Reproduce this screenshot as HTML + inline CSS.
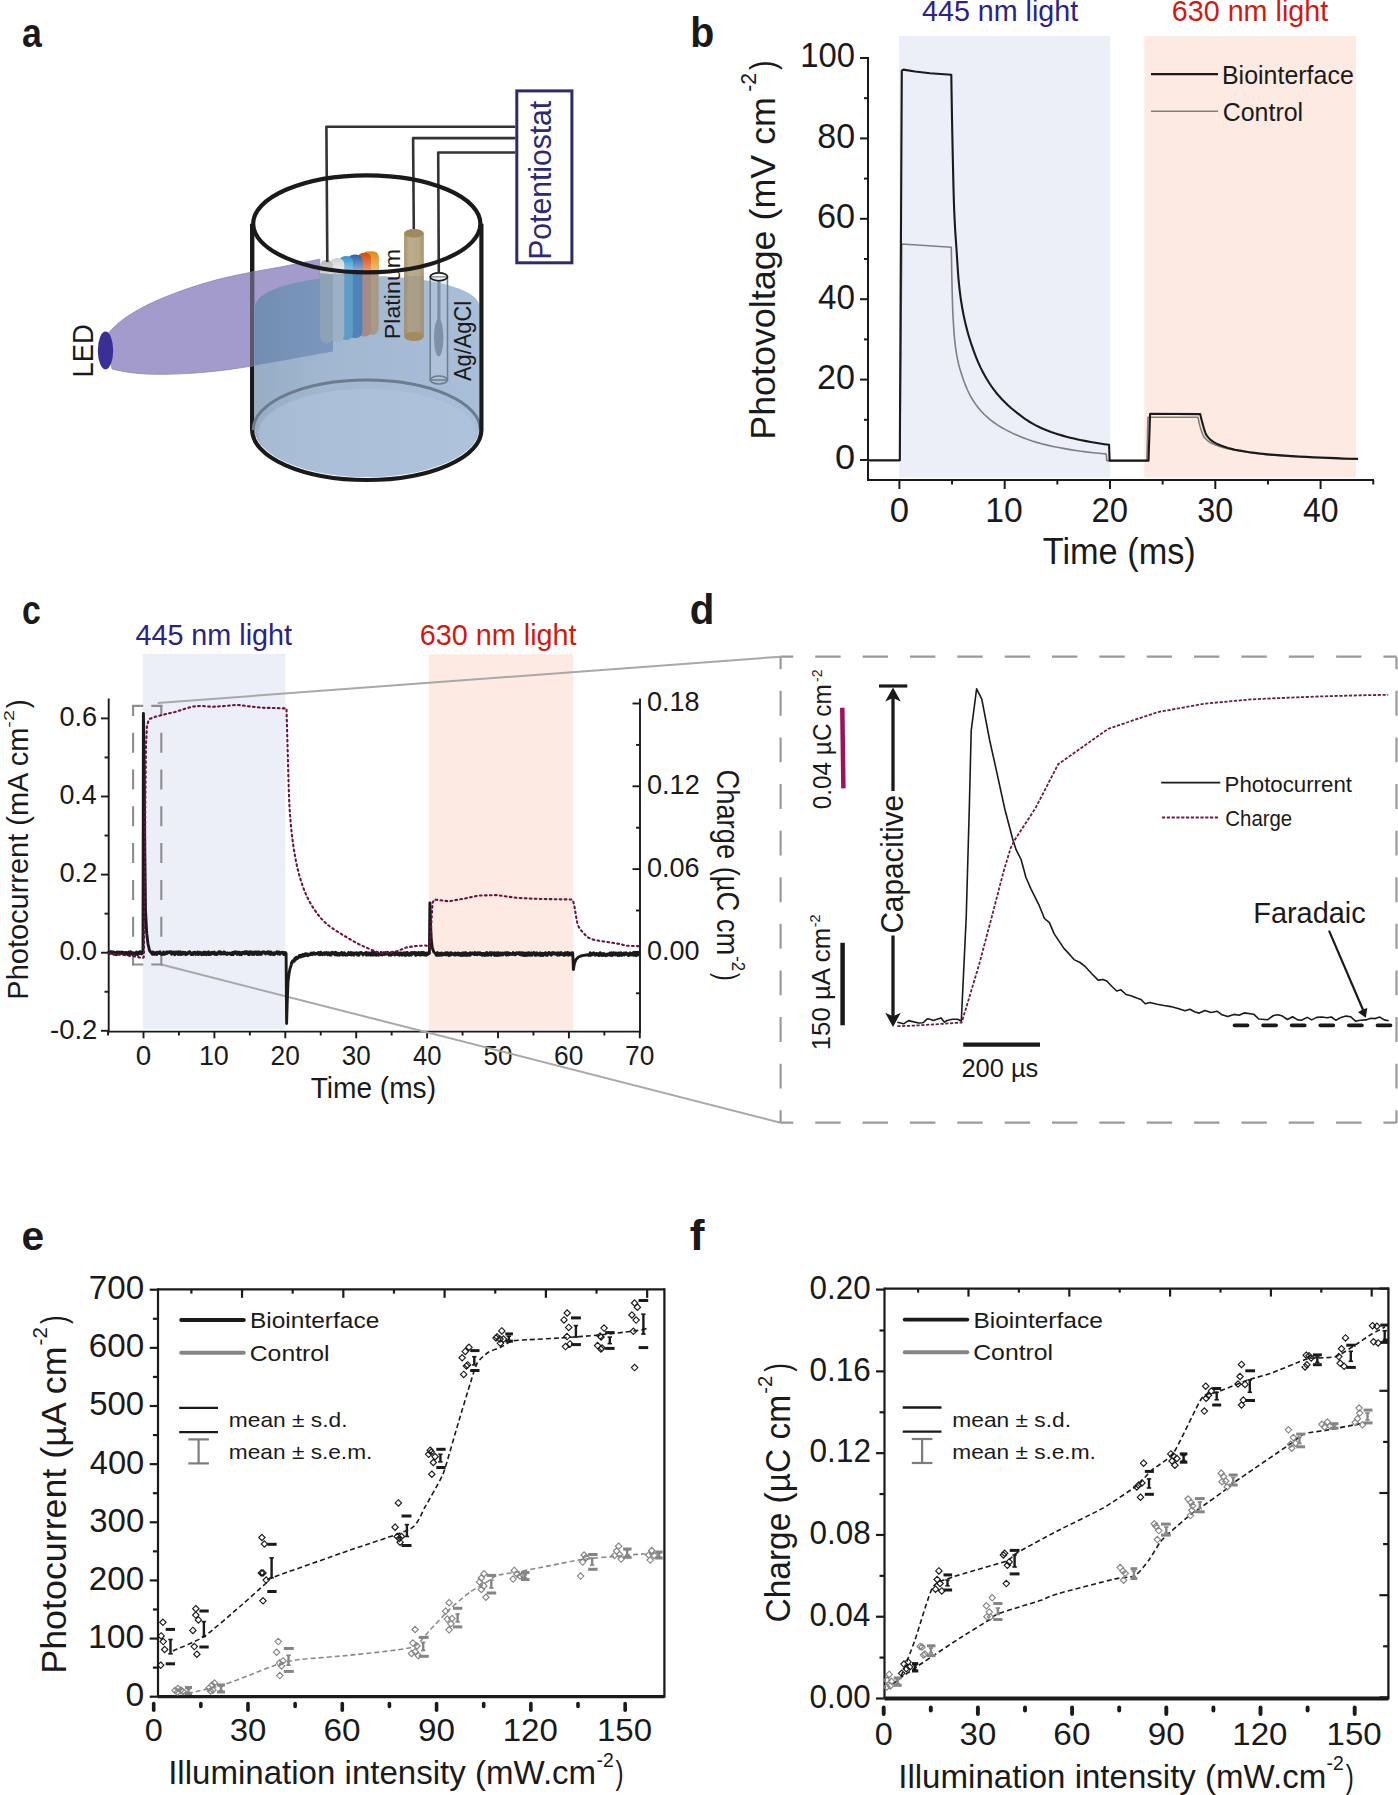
<!DOCTYPE html>
<html><head><meta charset="utf-8"><title>Figure</title>
<style>html,body{margin:0;padding:0;background:#fff;}svg{display:block;}text{font-family:"Liberation Sans", sans-serif;}</style>
</head><body>
<svg width="1398" height="1795" viewBox="0 0 1398 1795">
<rect width="1398" height="1795" fill="#fff"/>
<rect x="899" y="36" width="211" height="441.5" fill="#eceef8"/>
<rect x="1144.3" y="36" width="211.7" height="441.7" fill="#fdebe3"/>
<line x1="868" y1="57" x2="868" y2="481" stroke="#1a1a1a" stroke-width="2"/>
<line x1="867" y1="480" x2="1374" y2="480" stroke="#1a1a1a" stroke-width="2"/>
<line x1="860" y1="460" x2="868" y2="460" stroke="#1a1a1a" stroke-width="2"/>
<line x1="860" y1="379.6" x2="868" y2="379.6" stroke="#1a1a1a" stroke-width="2"/>
<line x1="860" y1="299.2" x2="868" y2="299.2" stroke="#1a1a1a" stroke-width="2"/>
<line x1="860" y1="218.8" x2="868" y2="218.8" stroke="#1a1a1a" stroke-width="2"/>
<line x1="860" y1="138.4" x2="868" y2="138.4" stroke="#1a1a1a" stroke-width="2"/>
<line x1="860" y1="58" x2="868" y2="58" stroke="#1a1a1a" stroke-width="2"/>
<line x1="864" y1="419.8" x2="868" y2="419.8" stroke="#1a1a1a" stroke-width="2"/>
<line x1="864" y1="339.4" x2="868" y2="339.4" stroke="#1a1a1a" stroke-width="2"/>
<line x1="864" y1="259" x2="868" y2="259" stroke="#1a1a1a" stroke-width="2"/>
<line x1="864" y1="178.6" x2="868" y2="178.6" stroke="#1a1a1a" stroke-width="2"/>
<line x1="864" y1="98.2" x2="868" y2="98.2" stroke="#1a1a1a" stroke-width="2"/>
<line x1="899.4" y1="480" x2="899.4" y2="489" stroke="#1a1a1a" stroke-width="2"/>
<line x1="1004.7" y1="480" x2="1004.7" y2="489" stroke="#1a1a1a" stroke-width="2"/>
<line x1="1110" y1="480" x2="1110" y2="489" stroke="#1a1a1a" stroke-width="2"/>
<line x1="1215.3" y1="480" x2="1215.3" y2="489" stroke="#1a1a1a" stroke-width="2"/>
<line x1="1320.6" y1="480" x2="1320.6" y2="489" stroke="#1a1a1a" stroke-width="2"/>
<line x1="952.05" y1="480" x2="952.05" y2="484.5" stroke="#1a1a1a" stroke-width="2"/>
<line x1="1057.35" y1="480" x2="1057.35" y2="484.5" stroke="#1a1a1a" stroke-width="2"/>
<line x1="1162.65" y1="480" x2="1162.65" y2="484.5" stroke="#1a1a1a" stroke-width="2"/>
<line x1="1267.95" y1="480" x2="1267.95" y2="484.5" stroke="#1a1a1a" stroke-width="2"/>
<line x1="1373.25" y1="480" x2="1373.25" y2="484.5" stroke="#1a1a1a" stroke-width="2"/>
<text x="835.09" y="469.3" font-size="34.71" fill="#1a1a1a" textLength="20.13" lengthAdjust="spacingAndGlyphs">0</text>
<text x="817.08" y="388.9" font-size="34.71" fill="#1a1a1a" textLength="38.06" lengthAdjust="spacingAndGlyphs">20</text>
<text x="818.04" y="308.5" font-size="34.71" fill="#1a1a1a" textLength="37.07" lengthAdjust="spacingAndGlyphs">40</text>
<text x="817.06" y="228.1" font-size="34.71" fill="#1a1a1a" textLength="38.08" lengthAdjust="spacingAndGlyphs">60</text>
<text x="817.32" y="147.7" font-size="34.71" fill="#1a1a1a" textLength="37.8" lengthAdjust="spacingAndGlyphs">80</text>
<text x="800.3" y="67.3" font-size="34.71" fill="#1a1a1a" textLength="54.78" lengthAdjust="spacingAndGlyphs">100</text>
<text x="889.74" y="522.3" font-size="35" fill="#1a1a1a" textLength="19.31" lengthAdjust="spacingAndGlyphs">0</text>
<text x="985.33" y="522.3" font-size="35" fill="#1a1a1a" textLength="37.48" lengthAdjust="spacingAndGlyphs">10</text>
<text x="1091.55" y="522.3" font-size="35" fill="#1a1a1a" textLength="36.53" lengthAdjust="spacingAndGlyphs">20</text>
<text x="1197.26" y="522.3" font-size="35" fill="#1a1a1a" textLength="36.1" lengthAdjust="spacingAndGlyphs">30</text>
<text x="1303.07" y="522.3" font-size="35" fill="#1a1a1a" textLength="35.58" lengthAdjust="spacingAndGlyphs">40</text>
<text x="1042.74" y="564" font-size="36.19" fill="#1a1a1a" textLength="153.07" lengthAdjust="spacingAndGlyphs">Time (ms)</text>
<text transform="translate(774.8,436.8) rotate(-90)" x="-2.94" y="0" font-size="35.9" fill="#1a1a1a" textLength="342.7" lengthAdjust="spacingAndGlyphs">Photovoltage (mV cm</text>
<text transform="translate(755.8,90.9) rotate(-90)" x="-0.94" y="0" font-size="21.86" fill="#1a1a1a" textLength="18.8" lengthAdjust="spacingAndGlyphs">-2</text>
<text transform="translate(774.8,69.8) rotate(-90)" x="-0.17" y="0" font-size="35.9" fill="#1a1a1a" textLength="9.42" lengthAdjust="spacingAndGlyphs">)</text>
<text x="922.04" y="21.2" font-size="28.86" fill="#2b2287" textLength="156.17" lengthAdjust="spacingAndGlyphs">445 nm light</text>
<text x="1171.74" y="21.2" font-size="28.86" fill="#d4180e" textLength="156.47" lengthAdjust="spacingAndGlyphs">630 nm light</text>
<text x="690.31" y="46.6" font-size="42.37" fill="#1a1a1a" font-weight="bold" textLength="24" lengthAdjust="spacingAndGlyphs">b</text>
<line x1="1151" y1="74.2" x2="1218" y2="74.2" stroke="#1a1a1a" stroke-width="2.2"/>
<line x1="1151" y1="111.3" x2="1218" y2="111.3" stroke="#7f7f7f" stroke-width="1.6"/>
<text x="1221.95" y="83.8" font-size="25.73" fill="#1a1a1a" textLength="131.86" lengthAdjust="spacingAndGlyphs">Biointerface</text>
<text x="1222.73" y="121" font-size="25.73" fill="#1a1a1a" textLength="80.44" lengthAdjust="spacingAndGlyphs">Control</text>
<path d="M867,460.6 L899.8,460.6 L901.8,244 L951.3,247.2 L951.4,253.36 L951.5,259.33 L951.6,265.05 L951.7,270.45 L951.8,275.45 L951.9,280 L952.07,287.06 L952.23,293.81 L952.4,300.08 L952.57,305.69 L952.73,310.49 L952.9,314.3 L953.37,322.74 L953.83,329.91 L954.3,335.94 L954.77,340.99 L955.23,345.2 L955.7,348.7 L956.65,354.67 L957.6,359.67 L958.55,363.9 L959.5,367.54 L960.45,370.78 L961.4,373.8 L963.32,379.51 L965.23,384.66 L967.15,389.27 L969.07,393.38 L970.98,397.02 L972.9,400.2 L975.77,404.4 L978.63,408.16 L981.5,411.51 L984.37,414.51 L987.23,417.19 L990.1,419.6 L993.92,422.49 L997.73,425.11 L1001.55,427.48 L1005.37,429.63 L1009.18,431.59 L1013,433.4 L1017.77,435.5 L1022.53,437.45 L1027.3,439.25 L1032.07,440.9 L1036.83,442.38 L1041.6,443.7 L1047.32,445.11 L1053.03,446.41 L1058.75,447.58 L1064.47,448.65 L1070.18,449.62 L1075.9,450.5 L1080.95,451.21 L1086,451.89 L1091.05,452.51 L1096.1,453.07 L1101.15,453.57 L1106.2,454 L1106.8,460.6 L1146.9,460.6 L1148,417.3 L1198,417.3 L1198.37,419.12 L1198.73,420.89 L1199.1,422.58 L1199.47,424.16 L1199.83,425.61 L1200.2,426.9 L1200.92,429.2 L1201.63,431.38 L1202.35,433.38 L1203.07,435.12 L1203.78,436.55 L1204.5,437.6 L1206.25,439.46 L1208,440.98 L1209.75,442.22 L1211.5,443.23 L1213.25,444.07 L1215,444.8 L1218.93,446.22 L1222.87,447.43 L1226.8,448.44 L1230.73,449.32 L1234.67,450.09 L1238.6,450.8 L1243.93,451.7 L1249.27,452.52 L1254.6,453.26 L1259.93,453.93 L1265.27,454.51 L1270.6,455 L1277.7,455.56 L1284.8,456.06 L1291.9,456.5 L1299,456.9 L1306.1,457.26 L1313.2,457.6 L1320.67,457.94 L1328.13,458.27 L1335.6,458.57 L1343.07,458.84 L1350.53,459.09 L1358,459.3" fill="none" stroke="#7f7f7f" stroke-width="1.6" stroke-linejoin="round"/>
<path d="M867,460.3 L899.8,460.3 L901.8,70.6 L903.5,69.6 L915,71.5 L930,73.2 L951.3,74.8 L951.5,87.58 L951.7,99.96 L951.9,111.84 L952.1,123.13 L952.3,133.75 L952.5,143.6 L952.78,156.89 L953.07,169.79 L953.35,181.96 L953.63,193.03 L953.92,202.66 L954.2,210.5 L954.62,219.67 L955.03,227.38 L955.45,234.07 L955.87,240.17 L956.28,246.1 L956.7,252.3 L957.02,257.3 L957.33,262.35 L957.65,267.3 L957.97,272 L958.28,276.28 L958.6,280 L959.07,284.75 L959.53,289.05 L960,292.97 L960.47,296.56 L960.93,299.85 L961.4,302.9 L962.17,307.53 L962.93,311.76 L963.7,315.66 L964.47,319.26 L965.23,322.63 L966,325.8 L967.15,330.27 L968.3,334.43 L969.45,338.32 L970.6,341.97 L971.75,345.42 L972.9,348.7 L974.42,352.85 L975.93,356.8 L977.45,360.54 L978.97,364.06 L980.48,367.35 L982,370.4 L984.3,374.7 L986.6,378.73 L988.9,382.49 L991.2,385.99 L993.5,389.22 L995.8,392.2 L998.85,395.83 L1001.9,399.19 L1004.95,402.31 L1008,405.21 L1011.05,407.94 L1014.1,410.5 L1017.72,413.41 L1021.33,416.18 L1024.95,418.8 L1028.57,421.23 L1032.18,423.44 L1035.8,425.4 L1039.62,427.25 L1043.43,428.95 L1047.25,430.52 L1051.07,431.96 L1054.88,433.28 L1058.7,434.5 L1062.52,435.63 L1066.33,436.67 L1070.15,437.65 L1073.97,438.56 L1077.78,439.41 L1081.6,440.2 L1086.18,441.1 L1090.77,441.96 L1095.35,442.77 L1099.93,443.52 L1104.52,444.2 L1109.1,444.8 L1109.6,460.6 L1148.5,460.6 L1150.1,413.7 L1200.2,414.1 L1200.55,415.63 L1200.9,417.13 L1201.25,418.59 L1201.6,419.99 L1201.95,421.34 L1202.3,422.6 L1203.02,425.15 L1203.73,427.7 L1204.45,430.14 L1205.17,432.32 L1205.88,434.11 L1206.6,435.4 L1208.38,437.63 L1210.17,439.45 L1211.95,440.93 L1213.73,442.13 L1215.52,443.13 L1217.3,444 L1220.85,445.52 L1224.4,446.82 L1227.95,447.93 L1231.5,448.88 L1235.05,449.69 L1238.6,450.4 L1243.93,451.34 L1249.27,452.18 L1254.6,452.91 L1259.93,453.55 L1265.27,454.11 L1270.6,454.6 L1277.7,455.16 L1284.8,455.66 L1291.9,456.1 L1299,456.5 L1306.1,456.86 L1313.2,457.2 L1320.67,457.54 L1328.13,457.87 L1335.6,458.17 L1343.07,458.44 L1350.53,458.69 L1358,458.9" fill="none" stroke="#1a1a1a" stroke-width="2.1" stroke-linejoin="round"/>
<rect x="142.7" y="654" width="142.7" height="375" fill="#eceef8"/>
<rect x="428.8" y="654.2" width="144.4" height="375.8" fill="#fdebe3"/>
<line x1="108.7" y1="698.4" x2="108.7" y2="1032.5" stroke="#1a1a1a" stroke-width="1.9"/>
<line x1="640" y1="698.4" x2="640" y2="1032.5" stroke="#1a1a1a" stroke-width="1.9"/>
<line x1="107.8" y1="1031.6" x2="640.9" y2="1031.6" stroke="#1a1a1a" stroke-width="1.9"/>
<line x1="101" y1="1030.8" x2="108.7" y2="1030.8" stroke="#1a1a1a" stroke-width="1.9"/>
<line x1="101" y1="952.7" x2="108.7" y2="952.7" stroke="#1a1a1a" stroke-width="1.9"/>
<line x1="101" y1="874.6" x2="108.7" y2="874.6" stroke="#1a1a1a" stroke-width="1.9"/>
<line x1="101" y1="796.5" x2="108.7" y2="796.5" stroke="#1a1a1a" stroke-width="1.9"/>
<line x1="101" y1="718.4" x2="108.7" y2="718.4" stroke="#1a1a1a" stroke-width="1.9"/>
<line x1="104.5" y1="991.75" x2="108.7" y2="991.75" stroke="#1a1a1a" stroke-width="1.9"/>
<line x1="104.5" y1="913.65" x2="108.7" y2="913.65" stroke="#1a1a1a" stroke-width="1.9"/>
<line x1="104.5" y1="835.55" x2="108.7" y2="835.55" stroke="#1a1a1a" stroke-width="1.9"/>
<line x1="104.5" y1="757.45" x2="108.7" y2="757.45" stroke="#1a1a1a" stroke-width="1.9"/>
<line x1="632.5" y1="951.9" x2="640" y2="951.9" stroke="#1a1a1a" stroke-width="1.9"/>
<line x1="632.5" y1="869.1" x2="640" y2="869.1" stroke="#1a1a1a" stroke-width="1.9"/>
<line x1="632.5" y1="786.3" x2="640" y2="786.3" stroke="#1a1a1a" stroke-width="1.9"/>
<line x1="632.5" y1="703.5" x2="640" y2="703.5" stroke="#1a1a1a" stroke-width="1.9"/>
<line x1="636" y1="993.3" x2="640" y2="993.3" stroke="#1a1a1a" stroke-width="1.9"/>
<line x1="636" y1="910.5" x2="640" y2="910.5" stroke="#1a1a1a" stroke-width="1.9"/>
<line x1="636" y1="827.7" x2="640" y2="827.7" stroke="#1a1a1a" stroke-width="1.9"/>
<line x1="636" y1="744.9" x2="640" y2="744.9" stroke="#1a1a1a" stroke-width="1.9"/>
<line x1="143.5" y1="1031.6" x2="143.5" y2="1038.3" stroke="#1a1a1a" stroke-width="1.9"/>
<line x1="214.4" y1="1031.6" x2="214.4" y2="1038.3" stroke="#1a1a1a" stroke-width="1.9"/>
<line x1="285.3" y1="1031.6" x2="285.3" y2="1038.3" stroke="#1a1a1a" stroke-width="1.9"/>
<line x1="356.2" y1="1031.6" x2="356.2" y2="1038.3" stroke="#1a1a1a" stroke-width="1.9"/>
<line x1="427.1" y1="1031.6" x2="427.1" y2="1038.3" stroke="#1a1a1a" stroke-width="1.9"/>
<line x1="498" y1="1031.6" x2="498" y2="1038.3" stroke="#1a1a1a" stroke-width="1.9"/>
<line x1="568.9" y1="1031.6" x2="568.9" y2="1038.3" stroke="#1a1a1a" stroke-width="1.9"/>
<line x1="639.8" y1="1031.6" x2="639.8" y2="1038.3" stroke="#1a1a1a" stroke-width="1.9"/>
<line x1="108.05" y1="1031.6" x2="108.05" y2="1035.5" stroke="#1a1a1a" stroke-width="1.9"/>
<line x1="178.95" y1="1031.6" x2="178.95" y2="1035.5" stroke="#1a1a1a" stroke-width="1.9"/>
<line x1="249.85" y1="1031.6" x2="249.85" y2="1035.5" stroke="#1a1a1a" stroke-width="1.9"/>
<line x1="320.75" y1="1031.6" x2="320.75" y2="1035.5" stroke="#1a1a1a" stroke-width="1.9"/>
<line x1="391.65" y1="1031.6" x2="391.65" y2="1035.5" stroke="#1a1a1a" stroke-width="1.9"/>
<line x1="462.55" y1="1031.6" x2="462.55" y2="1035.5" stroke="#1a1a1a" stroke-width="1.9"/>
<line x1="533.45" y1="1031.6" x2="533.45" y2="1035.5" stroke="#1a1a1a" stroke-width="1.9"/>
<line x1="604.35" y1="1031.6" x2="604.35" y2="1035.5" stroke="#1a1a1a" stroke-width="1.9"/>
<text x="59.44" y="726.1" font-size="27.57" fill="#1a1a1a" textLength="37.75" lengthAdjust="spacingAndGlyphs">0.6</text>
<text x="59.45" y="804.2" font-size="27.57" fill="#1a1a1a" textLength="37.34" lengthAdjust="spacingAndGlyphs">0.4</text>
<text x="59.43" y="882.3" font-size="27.57" fill="#1a1a1a" textLength="37.94" lengthAdjust="spacingAndGlyphs">0.2</text>
<text x="59.44" y="960.4" font-size="27.57" fill="#1a1a1a" textLength="37.61" lengthAdjust="spacingAndGlyphs">0.0</text>
<text x="49.98" y="1038.5" font-size="27.57" fill="#1a1a1a" textLength="47.41" lengthAdjust="spacingAndGlyphs">-0.2</text>
<text x="646.94" y="711.3" font-size="27.86" fill="#1a1a1a" textLength="52.63" lengthAdjust="spacingAndGlyphs">0.18</text>
<text x="646.94" y="794.1" font-size="27.86" fill="#1a1a1a" textLength="52.83" lengthAdjust="spacingAndGlyphs">0.12</text>
<text x="646.94" y="876.9" font-size="27.86" fill="#1a1a1a" textLength="52.65" lengthAdjust="spacingAndGlyphs">0.06</text>
<text x="646.95" y="959.7" font-size="27.86" fill="#1a1a1a" textLength="52.51" lengthAdjust="spacingAndGlyphs">0.00</text>
<text x="135.76" y="1064.9" font-size="27.57" fill="#1a1a1a" textLength="15.47" lengthAdjust="spacingAndGlyphs">0</text>
<text x="198.89" y="1064.9" font-size="27.57" fill="#1a1a1a" textLength="30.01" lengthAdjust="spacingAndGlyphs">10</text>
<text x="270.53" y="1064.9" font-size="27.57" fill="#1a1a1a" textLength="29.25" lengthAdjust="spacingAndGlyphs">20</text>
<text x="341.76" y="1064.9" font-size="27.57" fill="#1a1a1a" textLength="28.9" lengthAdjust="spacingAndGlyphs">30</text>
<text x="413.06" y="1064.9" font-size="27.57" fill="#1a1a1a" textLength="28.49" lengthAdjust="spacingAndGlyphs">40</text>
<text x="483.51" y="1064.9" font-size="27.57" fill="#1a1a1a" textLength="28.96" lengthAdjust="spacingAndGlyphs">50</text>
<text x="554.11" y="1064.9" font-size="27.57" fill="#1a1a1a" textLength="29.26" lengthAdjust="spacingAndGlyphs">60</text>
<text x="625" y="1064.9" font-size="27.57" fill="#1a1a1a" textLength="29.28" lengthAdjust="spacingAndGlyphs">70</text>
<text x="310.67" y="1098" font-size="28.78" fill="#1a1a1a" textLength="125.35" lengthAdjust="spacingAndGlyphs">Time (ms)</text>
<text transform="translate(27.8,997.3) rotate(-90)" x="-2.36" y="0" font-size="29.07" fill="#1a1a1a" textLength="272.06" lengthAdjust="spacingAndGlyphs">Photocurrent (mA cm</text>
<text transform="translate(13.6,726.8) rotate(-90)" x="-0.87" y="0" font-size="15" fill="#1a1a1a" textLength="17.46" lengthAdjust="spacingAndGlyphs">-2</text>
<text transform="translate(27.8,708.2) rotate(-90)" x="-0.15" y="0" font-size="29.07" fill="#1a1a1a" textLength="8.79" lengthAdjust="spacingAndGlyphs">)</text>
<text transform="translate(717,770.9) rotate(90)" x="-1.39" y="0" font-size="30.52" fill="#1a1a1a" textLength="185.69" lengthAdjust="spacingAndGlyphs">Charge (µC cm</text>
<text transform="translate(732.3,956.9) rotate(90)" x="-0.74" y="0" font-size="18" fill="#1a1a1a" textLength="14.89" lengthAdjust="spacingAndGlyphs">-2</text>
<text transform="translate(717,973.2) rotate(90)" x="-0.13" y="0" font-size="30.52" fill="#1a1a1a" textLength="7.54" lengthAdjust="spacingAndGlyphs">)</text>
<text x="135.44" y="644.9" font-size="28.86" fill="#2b2287" textLength="156.57" lengthAdjust="spacingAndGlyphs">445 nm light</text>
<text x="419.74" y="644.8" font-size="28.86" fill="#d4180e" textLength="156.87" lengthAdjust="spacingAndGlyphs">630 nm light</text>
<text x="21.88" y="623.9" font-size="40.89" fill="#1a1a1a" font-weight="bold" textLength="18.81" lengthAdjust="spacingAndGlyphs">c</text>
<line x1="157.7" y1="703" x2="780.6" y2="656.7" stroke="#a8a8a8" stroke-width="2"/>
<line x1="161.4" y1="964.5" x2="780.6" y2="1122.7" stroke="#a8a8a8" stroke-width="2"/>
<line x1="132" y1="705.9" x2="162.4" y2="705.9" stroke="#8d8d8d" stroke-width="2.1" stroke-dasharray="11.2 8.1" stroke-dashoffset="0"/>
<line x1="132" y1="964.5" x2="162.4" y2="964.5" stroke="#8d8d8d" stroke-width="2.1" stroke-dasharray="11.2 8.1" stroke-dashoffset="0"/>
<line x1="133.1" y1="704.9" x2="133.1" y2="965.5" stroke="#8d8d8d" stroke-width="2.1" stroke-dasharray="20 16.8" stroke-dashoffset="9"/>
<line x1="161.3" y1="704.9" x2="161.3" y2="965.5" stroke="#8d8d8d" stroke-width="2.1" stroke-dasharray="20 16.8" stroke-dashoffset="9"/>
<path d="M108.5,952.67 L108.9,952.15 L109.3,953.65 L109.7,951.92 L110.1,953.31 L110.5,952.8 L110.9,951.87 L111.3,953.22 L111.7,951.81 L112.1,953 L112.5,951.91 L112.9,951.97 L113.3,952.97 L113.7,954.18 L114.1,952.07 L114.5,952.37 L114.9,953.58 L115.3,954.54 L115.7,953.43 L116.1,952.89 L116.5,954.63 L116.9,951.84 L117.3,954.28 L117.7,952.57 L118.1,952.13 L118.5,952.05 L118.9,952.63 L119.3,954.15 L119.7,952.24 L120.1,953.44 L120.5,953.62 L120.9,952.82 L121.3,953.34 L121.7,951.89 L122.1,951.88 L122.5,952.32 L122.9,953.74 L123.3,952.98 L123.7,952.64 L124.1,953.46 L124.5,953.06 L124.9,952.6 L125.3,954.08 L125.7,953.8 L126.1,952.43 L126.5,953.42 L126.9,953.28 L127.3,954.33 L127.7,953.89 L128.1,952.56 L128.5,954.64 L128.9,952.05 L129.3,952.95 L129.7,953.97 L130.1,952.16 L130.5,953.17 L130.9,951.82 L131.3,953.7 L131.7,953.99 L132.1,953.42 L132.5,954.33 L132.9,952.64 L133.3,953.79 L133.7,953.48 L134.1,953.44 L134.5,953.07 L134.9,954.22 L135.3,954.53 L135.7,953.12 L136.1,953.69 L136.5,951.88 L136.9,953.8 L137.3,953.64 L137.7,954.68 L138.1,954.17 L138.5,952.55 L138.9,952.86 L139.3,953.71 L139.7,951.77 L140.1,953.09 L140.5,952.2 L140.9,952.05 L141.3,951.88 L141.7,954 L142.1,952.09 L142.5,952.44 L143,953 L143.4,713.4 L143.9,740 L144.8,850 L145.5,910.6 L146.7,933.2 L148,944 L149.5,950.5 L151.5,953 L152,952.87 L152.4,954.31 L152.8,951.94 L153.2,953.05 L153.6,953.35 L154,954.35 L154.4,954.16 L154.8,954.29 L155.2,952.54 L155.6,952.95 L156,952.78 L156.4,954.35 L156.8,954.57 L157.2,952.15 L157.6,952.23 L158,952.4 L158.4,952.4 L158.8,953.15 L159.2,953.47 L159.6,952.49 L160,951.71 L160.4,952.96 L160.8,952.81 L161.2,953.4 L161.6,954.56 L162,953.77 L162.4,953.25 L162.8,953.55 L163.2,953.73 L163.6,951.86 L164,954.4 L164.4,954.04 L164.8,954.32 L165.2,954.09 L165.6,952.88 L166,952.9 L166.4,952.01 L166.8,953.6 L167.2,951.89 L167.6,951.9 L168,952.33 L168.4,952.19 L168.8,952.72 L169.2,951.86 L169.6,951.7 L170,952.15 L170.4,952 L170.8,952.79 L171.2,951.78 L171.6,954.32 L172,953.54 L172.4,952.15 L172.8,952.46 L173.2,952.74 L173.6,952.79 L174,952.07 L174.4,954.25 L174.8,954.68 L175.2,953.1 L175.6,953.15 L176,951.96 L176.4,952.01 L176.8,952.73 L177.2,952.49 L177.6,954.19 L178,952.18 L178.4,951.77 L178.8,954.55 L179.2,953.28 L179.6,952.14 L180,953.33 L180.4,951.78 L180.8,953.28 L181.2,954.64 L181.6,954.29 L182,953.79 L182.4,952.48 L182.8,952.8 L183.2,952.2 L183.6,954.02 L184,953.3 L184.4,954.04 L184.8,952.69 L185.2,952.37 L185.6,954.13 L186,954.65 L186.4,954.26 L186.8,954.12 L187.2,954.15 L187.6,953.92 L188,952.38 L188.4,953.25 L188.8,952.77 L189.2,951.79 L189.6,951.78 L190,952.54 L190.4,952.48 L190.8,953.78 L191.2,954.57 L191.6,953.04 L192,954.51 L192.4,954.66 L192.8,954.57 L193.2,952.79 L193.6,952.36 L194,952.38 L194.4,952.29 L194.8,952.31 L195.2,953.57 L195.6,954.4 L196,954.22 L196.4,953.14 L196.8,953.66 L197.2,954.1 L197.6,951.95 L198,953.68 L198.4,954.43 L198.8,954.05 L199.2,953.95 L199.6,953.13 L200,952.24 L200.4,954.07 L200.8,952.7 L201.2,954.1 L201.6,954.61 L202,952.89 L202.4,952.9 L202.8,954.54 L203.2,953.87 L203.6,952.21 L204,952.08 L204.4,952.15 L204.8,954.41 L205.2,954.12 L205.6,952.14 L206,954.18 L206.4,954.64 L206.8,953.67 L207.2,952.75 L207.6,953.35 L208,952.09 L208.4,951.74 L208.8,954.61 L209.2,953.65 L209.6,953.28 L210,954.5 L210.4,953 L210.8,954.32 L211.2,954.18 L211.6,952.33 L212,952.46 L212.4,952.58 L212.8,952.42 L213.2,953.46 L213.6,952.48 L214,952.96 L214.4,952.09 L214.8,954.43 L215.2,952.76 L215.6,953.07 L216,953.45 L216.4,954.41 L216.8,952.96 L217.2,954.45 L217.6,953.2 L218,953.3 L218.4,953.27 L218.8,951.76 L219.2,953.02 L219.6,952.25 L220,951.71 L220.4,954.1 L220.8,952.22 L221.2,953.12 L221.6,953.88 L222,953.37 L222.4,952.68 L222.8,953.26 L223.2,953.37 L223.6,954.05 L224,952.02 L224.4,953.38 L224.8,952.45 L225.2,952.53 L225.6,954.02 L226,953.22 L226.4,953.39 L226.8,953.98 L227.2,954.44 L227.6,953.03 L228,953.54 L228.4,953.22 L228.8,953.24 L229.2,953.78 L229.6,953.06 L230,953.3 L230.4,953.13 L230.8,954.52 L231.2,953.8 L231.6,954.33 L232,954.53 L232.4,952.48 L232.8,953.38 L233.2,954.53 L233.6,954.22 L234,952.11 L234.4,952.06 L234.8,953.03 L235.2,951.92 L235.6,952.42 L236,951.92 L236.4,953.71 L236.8,954.05 L237.2,954.39 L237.6,952.16 L238,953.85 L238.4,953.68 L238.8,952.13 L239.2,954.35 L239.6,954.6 L240,952.36 L240.4,954.56 L240.8,952.89 L241.2,953.16 L241.6,954.67 L242,954.2 L242.4,952.18 L242.8,952.99 L243.2,953.25 L243.6,952.72 L244,952.29 L244.4,952.66 L244.8,953.87 L245.2,951.76 L245.6,953.36 L246,953.02 L246.4,951.75 L246.8,952.69 L247.2,953.57 L247.6,953.24 L248,951.89 L248.4,954.66 L248.8,954.07 L249.2,954.62 L249.6,952.01 L250,952.5 L250.4,951.82 L250.8,954.04 L251.2,952.51 L251.6,952.09 L252,952.97 L252.4,954.43 L252.8,954.16 L253.2,952.48 L253.6,952.15 L254,954.46 L254.4,953.41 L254.8,953.8 L255.2,951.97 L255.6,951.87 L256,953.76 L256.4,952.98 L256.8,951.92 L257.2,954.52 L257.6,953.6 L258,954.1 L258.4,951.95 L258.8,954.27 L259.2,951.9 L259.6,954.29 L260,953.06 L260.4,952.72 L260.8,953.36 L261.2,954.48 L261.6,952.5 L262,952.09 L262.4,953.28 L262.8,952.42 L263.2,952.03 L263.6,952.18 L264,951.85 L264.4,952.31 L264.8,952.64 L265.2,952.62 L265.6,953.98 L266,952.57 L266.4,953.2 L266.8,952.23 L267.2,952.74 L267.6,951.75 L268,952.45 L268.4,951.75 L268.8,953.9 L269.2,953.35 L269.6,952.27 L270,953.12 L270.4,954.5 L270.8,952.02 L271.2,954.16 L271.6,953 L272,953.19 L272.4,954.2 L272.8,952.88 L273.2,953.22 L273.6,953.76 L274,954.65 L274.4,952.73 L274.8,954.2 L275.2,953.82 L275.6,953.61 L276,952.91 L276.4,952.74 L276.8,951.86 L277.2,952.09 L277.6,951.91 L278,953.92 L278.4,952.47 L278.8,952.19 L279.2,951.95 L279.6,954.22 L280,954.31 L280.4,953.71 L280.8,952.55 L281.2,952.43 L281.6,952.58 L282,953.08 L282.4,952.17 L282.8,953.04 L283.2,952.49 L283.6,954.59 L284,954.62 L284.4,953.34 L284.8,952.43 L285.2,954.6 L285.6,952.63 L286.1,953.5 L286.6,1023.5 L287.3,1000 L288,981.5 L289,974 L290,968.6 L291.2,965 L291.29,964.4 L291.39,963.24 L291.48,964.01 L291.57,964.02 L291.66,963.88 L291.76,962.88 L291.85,963.46 L291.94,961.96 L292.04,962.44 L292.13,961.79 L292.22,962.42 L292.31,961.32 L292.41,961.11 L292.5,961.69 L292.68,961.23 L292.86,961.89 L293.04,961.5 L293.21,961.84 L293.39,961.37 L293.57,961.31 L293.75,961.52 L293.93,960.05 L294.11,959.7 L294.29,961.23 L294.46,958.88 L294.64,960.21 L294.82,959.83 L295,958.11 L295.24,959.97 L295.47,959.91 L295.71,959.03 L295.94,959.11 L296.18,959.13 L296.41,957.2 L296.65,958.02 L296.89,957.81 L297.12,958.51 L297.36,958.28 L297.59,958.2 L297.83,957.44 L298.06,958.13 L298.3,957.48 L298.64,957.36 L298.97,956.03 L299.31,955.39 L299.64,955.55 L299.98,956.03 L300.31,955.27 L300.65,957.07 L300.99,956.26 L301.32,956.35 L301.66,956.26 L301.99,956.32 L302.33,955.74 L302.66,954.39 L303,956.37 L303.36,956.15 L303.71,955.43 L304.07,955.42 L304.43,955.65 L304.79,954.02 L305.14,955.68 L305.5,954.33 L305.86,953.79 L306.21,954.21 L306.57,955.34 L306.93,953.91 L307.29,955.24 L307.64,955.79 L308,954.48 L308.43,954.14 L308.86,954.33 L309.29,954.81 L309.71,954.98 L310.14,954.54 L310.57,954.57 L311,953.05 L311.43,953.19 L311.86,953.43 L312.29,954.67 L312.71,953.49 L313.14,954.14 L313.57,952.66 L314,952.76 L314.49,953.26 L314.97,954.27 L315.46,954.29 L315.94,954.2 L316.43,953.16 L316.91,953.71 L317.4,953.54 L317.89,953.52 L318.37,952.58 L318.86,954.57 L319.34,952.75 L319.83,954.76 L320.31,954.64 L320.8,952.25 L321.39,953.39 L321.97,954.33 L322.56,954.72 L323.14,953.37 L323.73,952.9 L324.31,952.75 L324.9,954.67 L325.49,952.77 L326.07,953.74 L326.66,952.6 L327.24,953.61 L327.83,954.74 L328.41,952.62 L329,954.43 L329.4,953.83 L329.8,954.96 L330.2,954.41 L330.6,952.99 L331,954.99 L331.4,953.76 L331.8,952.37 L332.2,952.31 L332.6,953.78 L333,953.65 L333.4,953.21 L333.8,952.72 L334.2,953.33 L334.6,953.25 L335,954.82 L335.4,952.31 L335.8,954.55 L336.2,954.82 L336.6,952.66 L337,955.08 L337.4,954.44 L337.8,955 L338.2,953.17 L338.6,953.42 L339,953.48 L339.4,955.3 L339.8,954.07 L340.2,953.38 L340.6,953.58 L341,953.13 L341.4,952.44 L341.8,952.61 L342.2,954.8 L342.6,953.16 L343,955.11 L343.4,953.05 L343.8,953.1 L344.2,953.83 L344.6,952.87 L345,953.42 L345.4,955.17 L345.8,954.95 L346.2,954.74 L346.6,954.19 L347,955.04 L347.4,955.12 L347.8,953.95 L348.2,954.46 L348.6,952.45 L349,954.5 L349.4,953.65 L349.8,954.56 L350.2,954.23 L350.6,953.16 L351,952.45 L351.4,955.08 L351.8,952.68 L352.2,953.72 L352.6,953.33 L353,953.19 L353.4,954.52 L353.8,955.23 L354.2,953.08 L354.6,954.27 L355,953.2 L355.4,953.97 L355.8,953.48 L356.2,952.8 L356.6,952.78 L357,952.92 L357.4,955.02 L357.8,953.79 L358.2,952.96 L358.6,955.02 L359,955.29 L359.4,953.65 L359.8,952.72 L360.2,952.88 L360.6,952.57 L361,953.33 L361.4,952.57 L361.8,953.02 L362.2,953.08 L362.6,954.01 L363,954.96 L363.4,954.55 L363.8,953.54 L364.2,953.54 L364.6,953.87 L365,953.43 L365.4,953.31 L365.8,952.49 L366.2,953.13 L366.6,955.2 L367,952.68 L367.4,953.81 L367.8,954.19 L368.2,954.89 L368.6,952.95 L369,953.11 L369.4,953.05 L369.8,953.5 L370.2,953.64 L370.6,955.16 L371,954.85 L371.4,954.92 L371.8,952.37 L372.2,952.4 L372.6,954.43 L373,954.99 L373.4,953.72 L373.8,954.06 L374.2,952.3 L374.6,953.47 L375,955.08 L375.4,954.78 L375.8,954.87 L376.2,955.22 L376.6,953.05 L377,952.63 L377.4,952.76 L377.8,953.87 L378.2,954.35 L378.6,955.12 L379,954.47 L379.4,954.24 L379.8,954.59 L380.2,953.67 L380.6,953.95 L381,952.42 L381.4,954.65 L381.8,953 L382.2,955.06 L382.6,954.24 L383,953.21 L383.4,952.68 L383.8,953.06 L384.2,954.21 L384.6,954.4 L385,952.64 L385.4,952.51 L385.8,953.87 L386.2,954.05 L386.6,953.46 L387,952.97 L387.4,954.1 L387.8,952.33 L388.2,953.2 L388.6,953.68 L389,955.18 L389.4,954.23 L389.8,954.95 L390.2,953.73 L390.6,953 L391,953.04 L391.4,955.18 L391.8,954.41 L392.2,953.22 L392.6,952.37 L393,953.79 L393.4,954.32 L393.8,953.56 L394.2,953.07 L394.6,954.3 L395,955.08 L395.4,952.98 L395.8,952.4 L396.2,953.31 L396.6,953.56 L397,954.35 L397.4,952.89 L397.8,954.69 L398.2,954.52 L398.6,953.81 L399,952.92 L399.4,955.21 L399.8,953.24 L400.2,954.76 L400.6,952.99 L401,952.96 L401.4,954.58 L401.8,953.18 L402.2,955.16 L402.6,953.79 L403,952.86 L403.4,952.97 L403.8,953.55 L404.2,954.3 L404.6,955.15 L405,952.74 L405.4,953.48 L405.8,952.94 L406.2,955.22 L406.6,952.73 L407,952.46 L407.4,952.48 L407.8,953.48 L408.2,954.99 L408.6,954.95 L409,954.5 L409.4,955.29 L409.8,955.09 L410.2,953.29 L410.6,952.86 L411,955.11 L411.4,954.54 L411.8,952.4 L412.2,954.29 L412.6,953.44 L413,953.42 L413.4,953.3 L413.8,952.81 L414.2,952.31 L414.6,953.14 L415,953.35 L415.4,955.17 L415.8,952.67 L416.2,955.19 L416.6,952.92 L417,953.37 L417.4,954.76 L417.8,954.77 L418.2,953.6 L418.6,952.45 L419,953.72 L419.4,953.42 L419.8,955.06 L420.2,952.88 L420.6,953.39 L421,954.99 L421.4,952.39 L421.8,953.53 L422.2,954.74 L422.6,954.6 L423,952.42 L423.4,952.4 L423.8,952.49 L424.2,955.06 L424.6,953.07 L425,954.54 L425.4,955 L425.8,953.32 L426.2,953.12 L426.6,955.17 L427,954.15 L427.4,953.09 L427.8,954.45 L428.2,953.25 L428.6,953.13 L429,952.31 L429.4,953.5 L429.9,902.9 L430.6,925 L431.3,940 L432.3,948 L433.8,952 L435.5,953.5 L436,954.77 L436.4,955.25 L436.8,954.4 L437.2,955.33 L437.6,952.57 L438,953.2 L438.4,953.93 L438.8,955.37 L439.2,955.36 L439.6,953.66 L440,953.25 L440.4,953.79 L440.8,953.98 L441.2,955.28 L441.6,953.05 L442,954.91 L442.4,954.72 L442.8,954.97 L443.2,954.82 L443.6,954.32 L444,953.48 L444.4,953.46 L444.8,953.59 L445.2,954.85 L445.6,952.74 L446,953.09 L446.4,954.76 L446.8,953.24 L447.2,952.69 L447.6,952.6 L448,954.16 L448.4,953.48 L448.8,955.44 L449.2,955.15 L449.6,955.46 L450,953.29 L450.4,952.75 L450.8,952.79 L451.2,954 L451.6,954.63 L452,953.84 L452.4,953.2 L452.8,953.75 L453.2,954.36 L453.6,954.52 L454,954.74 L454.4,955.04 L454.8,954.49 L455.2,952.86 L455.6,955.02 L456,953.38 L456.4,954.2 L456.8,953.62 L457.2,954.71 L457.6,953.1 L458,953.24 L458.4,953.24 L458.8,952.96 L459.2,955.15 L459.6,954.23 L460,953.48 L460.4,953.69 L460.8,955.48 L461.2,954.02 L461.6,953.19 L462,954.93 L462.4,954.46 L462.8,955.47 L463.2,952.81 L463.6,953.92 L464,954.96 L464.4,955.02 L464.8,955.24 L465.2,952.62 L465.6,953.38 L466,952.86 L466.4,953.07 L466.8,955.42 L467.2,954.25 L467.6,955.29 L468,953.62 L468.4,955.1 L468.8,953.85 L469.2,953.28 L469.6,954.83 L470,955.34 L470.4,952.82 L470.8,954.29 L471.2,954.36 L471.6,953.15 L472,953.61 L472.4,952.92 L472.8,953.11 L473.2,953.26 L473.6,954.3 L474,954.45 L474.4,953.11 L474.8,952.53 L475.2,953.48 L475.6,954.53 L476,953.06 L476.4,953.44 L476.8,953.11 L477.2,954.89 L477.6,954.14 L478,952.69 L478.4,952.8 L478.8,953.69 L479.2,954.15 L479.6,954.42 L480,952.77 L480.4,952.99 L480.8,954.59 L481.2,953.73 L481.6,953.35 L482,953.42 L482.4,955.36 L482.8,953.44 L483.2,954.2 L483.6,953.57 L484,953.75 L484.4,955.09 L484.8,955.49 L485.2,953.59 L485.6,953.09 L486,954.68 L486.4,953.11 L486.8,952.52 L487.2,955.2 L487.6,953.77 L488,954.96 L488.4,953.72 L488.8,955.15 L489.2,953.88 L489.6,952.99 L490,952.54 L490.4,954.15 L490.8,954.42 L491.2,955.23 L491.6,952.77 L492,954.37 L492.4,953.61 L492.8,954.01 L493.2,952.94 L493.6,953.35 L494,954.06 L494.4,955.28 L494.8,952.83 L495.2,953.97 L495.6,954.91 L496,955.4 L496.4,953.09 L496.8,952.88 L497.2,955.33 L497.6,955.43 L498,953.95 L498.4,952.66 L498.8,955.28 L499.2,953.66 L499.6,955.21 L500,954.36 L500.4,954.97 L500.8,952.98 L501.2,954.86 L501.6,953.17 L502,953.71 L502.4,955.04 L502.8,954.99 L503.2,953.05 L503.6,953.15 L504,953.7 L504.4,954.05 L504.8,953.65 L505.2,952.87 L505.6,953.24 L506,954.67 L506.4,955.19 L506.8,952.62 L507.2,954.19 L507.6,954.77 L508,952.61 L508.4,955.01 L508.8,952.85 L509.2,954.3 L509.6,954.15 L510,954.38 L510.4,953.42 L510.8,953.76 L511.2,954.25 L511.6,953.78 L512,954.48 L512.4,953.84 L512.8,953.82 L513.2,952.57 L513.6,954.36 L514,953.97 L514.4,953.21 L514.8,954.79 L515.2,954.84 L515.6,953.87 L516,953.04 L516.4,953.92 L516.8,952.82 L517.2,952.89 L517.6,953.79 L518,952.78 L518.4,953.83 L518.8,954.03 L519.2,952.62 L519.6,954.41 L520,952.75 L520.4,954.7 L520.8,954.83 L521.2,954.03 L521.6,952.66 L522,954.01 L522.4,953.63 L522.8,955.35 L523.2,952.91 L523.6,955.07 L524,955.49 L524.4,954.7 L524.8,954.94 L525.2,953.08 L525.6,955.45 L526,953.98 L526.4,955.37 L526.8,955.25 L527.2,953 L527.6,954.87 L528,955.29 L528.4,952.7 L528.8,953.55 L529.2,954.77 L529.6,952.98 L530,955.19 L530.4,953.32 L530.8,954.95 L531.2,952.93 L531.6,954.01 L532,955.26 L532.4,953.12 L532.8,953.29 L533.2,954.02 L533.6,953.46 L534,952.61 L534.4,953.05 L534.8,952.98 L535.2,955.31 L535.6,954.54 L536,955.19 L536.4,953.01 L536.8,954.85 L537.2,952.85 L537.6,954.09 L538,954.41 L538.4,953.58 L538.8,955.12 L539.2,954.17 L539.6,954.24 L540,955.15 L540.4,952.81 L540.8,955.48 L541.2,954.39 L541.6,953.68 L542,954.89 L542.4,953.29 L542.8,955.47 L543.2,954.23 L543.6,953.58 L544,954.79 L544.4,953.83 L544.8,953.03 L545.2,954.73 L545.6,952.64 L546,954.96 L546.4,953.26 L546.8,954.42 L547.2,955.45 L547.6,954.26 L548,954.49 L548.4,953.44 L548.8,952.51 L549.2,952.6 L549.6,952.95 L550,954.35 L550.4,953.8 L550.8,954.04 L551.2,955.19 L551.6,952.9 L552,953.18 L552.4,954.46 L552.8,952.57 L553.2,952.51 L553.6,953.56 L554,952.82 L554.4,953.57 L554.8,953.17 L555.2,954.25 L555.6,954.27 L556,953.11 L556.4,954.37 L556.8,953.92 L557.2,952.9 L557.6,955.31 L558,953.23 L558.4,952.95 L558.8,952.79 L559.2,954.41 L559.6,955.11 L560,954.85 L560.4,953.71 L560.8,953.29 L561.2,952.53 L561.6,954.43 L562,954.19 L562.4,953.55 L562.8,954.44 L563.2,953.83 L563.6,955.31 L564,954.7 L564.4,953.25 L564.8,955.21 L565.2,952.63 L565.6,954.09 L566,953.72 L566.4,953.21 L566.8,952.68 L567.2,954.84 L567.6,952.54 L568,954.15 L568.4,955.32 L568.8,952.93 L569.2,953.1 L569.6,954.32 L570,954.02 L570.4,954.42 L570.8,954.94 L571.2,953.02 L571.6,953.43 L572,953.4 L572.4,952.65 L572.8,954 L573.4,969.5 L574.4,963.5 L576,959.5 L578.5,957 L582,955.6 L588,954.8 L589,955.37 L589.4,955.05 L589.8,954.85 L590.2,952.72 L590.6,955.23 L591,954.94 L591.4,954.1 L591.8,954.93 L592.2,954.06 L592.6,953.38 L593,953.02 L593.4,953.4 L593.8,952.82 L594.2,953.71 L594.6,954.95 L595,954.79 L595.4,955.24 L595.8,954.84 L596.2,953.5 L596.6,954.36 L597,954.01 L597.4,955.07 L597.8,954.27 L598.2,953.5 L598.6,954.63 L599,955.6 L599.4,953.35 L599.8,955.34 L600.2,952.75 L600.6,953.48 L601,953.41 L601.4,954.93 L601.8,955.53 L602.2,954.94 L602.6,953.68 L603,955.34 L603.4,953.69 L603.8,953.42 L604.2,955.42 L604.6,954.59 L605,954.78 L605.4,954.7 L605.8,955.64 L606.2,954.11 L606.6,955.22 L607,954.79 L607.4,955.27 L607.8,954.01 L608.2,954.87 L608.6,954.41 L609,953.62 L609.4,953.34 L609.8,954.57 L610.2,952.93 L610.6,955.43 L611,953.13 L611.4,952.78 L611.8,953.02 L612.2,955.49 L612.6,953.73 L613,953.13 L613.4,952.79 L613.8,952.82 L614.2,954.78 L614.6,954.6 L615,954.79 L615.4,954.91 L615.8,952.9 L616.2,954.47 L616.6,953.79 L617,955.15 L617.4,955.16 L617.8,955.37 L618.2,952.9 L618.6,955.3 L619,955.44 L619.4,955.53 L619.8,953.02 L620.2,953.32 L620.6,953.04 L621,952.8 L621.4,955.24 L621.8,955.14 L622.2,954.6 L622.6,955.18 L623,954.59 L623.4,953.56 L623.8,953 L624.2,952.99 L624.6,954.97 L625,953.31 L625.4,953.66 L625.8,953.97 L626.2,952.76 L626.6,953.47 L627,953.55 L627.4,954.85 L627.8,953.8 L628.2,953.66 L628.6,955.59 L629,954.21 L629.4,955.25 L629.8,954.55 L630.2,952.79 L630.6,953.94 L631,954.01 L631.4,955.02 L631.8,953.74 L632.2,954.81 L632.6,954.31 L633,953.35 L633.4,955.29 L633.8,952.97 L634.2,955.16 L634.6,953.21 L635,952.7 L635.4,953.31 L635.8,954.99 L636.2,955.63 L636.6,952.71 L637,954.17 L637.4,954.17 L637.8,955.09 L638.2,953.25 L638.6,954.18 L639,953.74 L639.4,955.2" fill="none" stroke="#1a1a1a" stroke-width="2.9" stroke-linejoin="round"/>
<path d="M108.5,953.3 L120,954.5 L135,956.5 L142.7,958 L143.8,957 L144.6,900 L145.3,800 L146,745 L147,726 L148.5,720.5 L150,718.8 L155,716.8 L165,714.3 L175,712 L185,708.8 L193,706.5 L201.7,705.9 L212,706.8 L225,706 L237,704.8 L248,706.2 L262,707.8 L275,708 L286.5,708.5 L286.68,715.5 L286.87,722.39 L287.05,729.16 L287.23,735.78 L287.42,742.24 L287.6,748.5 L287.92,759.52 L288.23,770.87 L288.55,781.92 L288.87,792.05 L289.18,800.62 L289.5,807 L290.15,816.51 L290.8,824.41 L291.45,831.01 L292.1,836.6 L292.75,841.49 L293.4,846 L294.38,852.33 L295.37,858 L296.35,863.07 L297.33,867.6 L298.32,871.66 L299.3,875.3 L300.92,880.7 L302.53,885.58 L304.15,889.97 L305.77,893.91 L307.38,897.45 L309,900.6 L311.6,905.17 L314.2,909.32 L316.8,913.06 L319.4,916.41 L322,919.38 L324.6,922 L327.85,924.86 L331.1,927.37 L334.35,929.63 L337.6,931.72 L340.85,933.71 L344.1,935.7 L347.03,937.5 L349.97,939.25 L352.9,940.94 L355.83,942.55 L358.77,944.08 L361.7,945.5 L364.95,946.99 L368.2,948.41 L371.45,949.76 L374.7,951.03 L377.95,952.22 L381.2,953.3 L390,952.5 L396.8,951.3 L406.5,947.4 L416,946 L426,945.5 L429.9,947.4 L431.5,920 L432.5,903 L434.2,899.5 L448.7,901.3 L465,898.5 L478.4,895.6 L496.7,895.1 L517.3,897.9 L540.2,899 L572.3,899.5 L572.8,900.5 L573.3,901.94 L573.8,903.71 L574.3,905.7 L574.72,907.87 L575.15,910.59 L575.58,913.44 L576,916 L576.45,918.46 L576.9,920.86 L577.35,922.98 L577.8,924.6 L578.35,926.02 L578.9,927.18 L579.45,928.15 L580,929 L580.73,929.97 L581.45,930.79 L582.17,931.55 L582.9,932.3 L584.2,933.75 L585.5,935.22 L586.8,936.52 L588.1,937.5 L589.38,938.18 L590.65,938.76 L591.93,939.23 L593.2,939.6 L597.05,940.44 L600.9,941.07 L604.75,941.61 L608.6,942.2 L611.83,942.72 L615.05,943.22 L618.27,943.76 L621.5,944.4 L622.58,944.71 L623.65,945.08 L624.72,945.41 L625.8,945.6 L629,945.82 L632.2,945.98 L635.4,946.07 L638.6,946.1" fill="none" stroke="#6b1243" stroke-width="2.1" stroke-linejoin="round" stroke-dasharray="1.7 3.3" stroke-linecap="round"/>
<line x1="780.6" y1="656.7" x2="1396.5" y2="656.7" stroke="#9a9a9a" stroke-width="2.2" stroke-dasharray="25.4 21.95" stroke-dashoffset="12.7"/>
<line x1="780.6" y1="1122.7" x2="1396.5" y2="1122.7" stroke="#9a9a9a" stroke-width="2.2" stroke-dasharray="25.4 21.95" stroke-dashoffset="12.7"/>
<line x1="780.6" y1="656.7" x2="780.6" y2="1122.7" stroke="#9a9a9a" stroke-width="2.2" stroke-dasharray="24.9 21.7" stroke-dashoffset="12.45"/>
<line x1="1396.5" y1="656.7" x2="1396.5" y2="1122.7" stroke="#9a9a9a" stroke-width="2.2" stroke-dasharray="24.9 21.7" stroke-dashoffset="12.45"/>
<text x="689.75" y="623.7" font-size="42.37" fill="#1a1a1a" font-weight="bold" textLength="24.61" lengthAdjust="spacingAndGlyphs">d</text>
<text transform="translate(831.2,808.4) rotate(-90)" x="-0.95" y="0" font-size="26.14" fill="#1a1a1a" textLength="125.06" lengthAdjust="spacingAndGlyphs">0.04 µC cm</text>
<text transform="translate(821.8,681.4) rotate(-90)" x="-0.62" y="0" font-size="15.29" fill="#1a1a1a" textLength="12.42" lengthAdjust="spacingAndGlyphs">-2</text>
<text transform="translate(829.6,1048.4) rotate(-90)" x="-1.95" y="0" font-size="26.14" fill="#1a1a1a" textLength="122.63" lengthAdjust="spacingAndGlyphs">150 µA cm</text>
<text transform="translate(819.6,926.7) rotate(-90)" x="-0.64" y="0" font-size="15.29" fill="#1a1a1a" textLength="12.87" lengthAdjust="spacingAndGlyphs">-2</text>
<line x1="842.3" y1="707.7" x2="843.4" y2="788.4" stroke="#a01258" stroke-width="4.5"/>
<line x1="842.6" y1="942.8" x2="842.6" y2="1025.3" stroke="#1a1a1a" stroke-width="4.5"/>
<line x1="879" y1="686" x2="907.3" y2="686" stroke="#1a1a1a" stroke-width="3.2"/>
<line x1="893" y1="696" x2="893" y2="791" stroke="#1a1a1a" stroke-width="3.3"/>
<line x1="893" y1="935.5" x2="893" y2="1017" stroke="#1a1a1a" stroke-width="3.3"/>
<path d="M893,687.5 L900.8,701.5 L893,698 L885.2,701.5 Z" fill="#1a1a1a"/>
<path d="M893,1027 L900.8,1012.8 L893,1016.3 L885.2,1012.8 Z" fill="#1a1a1a"/>
<text transform="translate(902.5,932.1) rotate(-90)" x="-1.51" y="0" font-size="31.25" fill="#1a1a1a" textLength="138.73" lengthAdjust="spacingAndGlyphs">Capacitive</text>
<line x1="963.2" y1="1044.6" x2="1040" y2="1044.6" stroke="#1a1a1a" stroke-width="4.3"/>
<text x="961.42" y="1077" font-size="26" fill="#1a1a1a" textLength="76.9" lengthAdjust="spacingAndGlyphs">200 µs</text>
<text x="1253.23" y="923.2" font-size="29.8" fill="#1a1a1a" textLength="112.54" lengthAdjust="spacingAndGlyphs">Faradaic</text>
<line x1="1329" y1="930.6" x2="1363.5" y2="1011" stroke="#1a1a1a" stroke-width="2.2"/>
<path d="M1365.8,1017.8 L1358,1012.3 L1362.6,1009.5 L1367.3,1008 Z" fill="#1a1a1a"/>
<line x1="1234.5" y1="1025.3" x2="1392.5" y2="1025.3" stroke="#1a1a1a" stroke-width="3.8" stroke-linecap="round" stroke-dasharray="13 15.6"/>
<line x1="1161.2" y1="782.6" x2="1220.3" y2="782.6" stroke="#1a1a1a" stroke-width="1.6"/>
<line x1="1162" y1="817.5" x2="1218" y2="817.5" stroke="#6b1d45" stroke-width="1.8" stroke-dasharray="3.2 1.6"/>
<text x="1224.57" y="791.7" font-size="22.53" fill="#1a1a1a" textLength="127.39" lengthAdjust="spacingAndGlyphs">Photocurrent</text>
<text x="1225.37" y="825.5" font-size="22.53" fill="#1a1a1a" textLength="66.84" lengthAdjust="spacingAndGlyphs">Charge</text>
<path d="M897.3,1022.2 L903.6,1023.8 L908.5,1020.6 L918.5,1023 L922.8,1022.8 L927.6,1018.7 L930,1019.2 L933.4,1020.5 L938.5,1018.8 L941.1,1017.9 L944.5,1022.2 L947.1,1020.5 L952.3,1019.3 L957.4,1019.3 L961.3,1021.1 L966.2,917.7 L969.4,804.6 L971.2,730.7 L976.6,688.8 L981.8,699.1 L989.6,740 L996.8,772.3 L1004.9,809.5 L1013,840.2 L1016.2,849.9 L1021.1,859.5 L1025.9,877.3 L1030.8,888.6 L1038.9,904.8 L1044.5,918.5 L1049.4,922.6 L1054.2,933.9 L1063.9,948.4 L1070,954.9 L1074,959.6 L1080,962.5 L1085.4,966.7 L1092,974 L1098.2,980.1 L1103,979.5 L1106.7,981 L1112,986.5 L1116.7,991 L1121,989.8 L1126,994.5 L1131,995.8 L1136.6,998 L1141,999.5 L1145.2,1003.8 L1150,1002.5 L1157,1004.2 L1164,1005.5 L1170.8,1006.6 L1178,1008.5 L1185,1010.8 L1190,1009.3 L1195,1012 L1199.3,1013.1 L1205,1010.5 L1211,1012.5 L1217,1011.2 L1222,1014.8 L1227.7,1016.6 L1234,1014.4 L1239.1,1015.2 L1244.2,1012.9 L1253.7,1014.2 L1258.8,1019 L1267.7,1019.7 L1273.5,1015.5 L1277.9,1014.8 L1282.4,1016.1 L1287.5,1019.5 L1292.6,1016.7 L1297.7,1019.9 L1301.5,1020.2 L1307.2,1017.4 L1311.7,1019.9 L1316.8,1017.4 L1321.9,1017 L1327,1017.8 L1331.4,1017 L1335.9,1020.3 L1341,1017.4 L1346,1016.1 L1350.5,1016.7 L1355.6,1021.2 L1360.1,1020.3 L1365.8,1019.9 L1370.9,1018.3 L1375.3,1018.6 L1379.8,1017.1 L1384.2,1019.9 L1388.7,1020.8" fill="none" stroke="#1a1a1a" stroke-width="1.6" stroke-linejoin="round"/>
<path d="M897.3,1026.2 L910,1025.8 L925,1025 L940,1024 L961.7,1022.5 L970,995 L979.1,964.6 L992,916.1 L1003.3,872.5 L1010.6,848.2 L1014.6,840.2 L1035.6,807.9 L1058.2,764.2 L1108.3,728.8 L1157.6,712.1 L1204.6,703.7 L1250.7,699.4 L1290,697.6 L1324.5,696.3 L1360,695.3 L1388.2,694.8" fill="none" stroke="#6b1d45" stroke-width="1.8" stroke-linejoin="round" stroke-dasharray="3.2 1.6"/>
<line x1="158" y1="1289.3" x2="664.4" y2="1289.3" stroke="#1a1a1a" stroke-width="2.2"/>
<line x1="158" y1="1288.2" x2="158" y2="1696.7" stroke="#1a1a1a" stroke-width="2.2"/>
<line x1="664.4" y1="1288.2" x2="664.4" y2="1697.7" stroke="#1a1a1a" stroke-width="2.3"/>
<line x1="158" y1="1696.7" x2="664.4" y2="1696.7" stroke="#1a1a1a" stroke-width="3.3"/>
<line x1="149.7" y1="1696.7" x2="158" y2="1696.7" stroke="#1a1a1a" stroke-width="2.2"/>
<line x1="149.7" y1="1638.56" x2="158" y2="1638.56" stroke="#1a1a1a" stroke-width="2.2"/>
<line x1="149.7" y1="1580.42" x2="158" y2="1580.42" stroke="#1a1a1a" stroke-width="2.2"/>
<line x1="149.7" y1="1522.28" x2="158" y2="1522.28" stroke="#1a1a1a" stroke-width="2.2"/>
<line x1="149.7" y1="1464.14" x2="158" y2="1464.14" stroke="#1a1a1a" stroke-width="2.2"/>
<line x1="149.7" y1="1406" x2="158" y2="1406" stroke="#1a1a1a" stroke-width="2.2"/>
<line x1="149.7" y1="1347.86" x2="158" y2="1347.86" stroke="#1a1a1a" stroke-width="2.2"/>
<line x1="149.7" y1="1289.72" x2="158" y2="1289.72" stroke="#1a1a1a" stroke-width="2.2"/>
<line x1="152.9" y1="1667.63" x2="158" y2="1667.63" stroke="#1a1a1a" stroke-width="2.2"/>
<line x1="152.9" y1="1609.49" x2="158" y2="1609.49" stroke="#1a1a1a" stroke-width="2.2"/>
<line x1="152.9" y1="1551.35" x2="158" y2="1551.35" stroke="#1a1a1a" stroke-width="2.2"/>
<line x1="152.9" y1="1493.21" x2="158" y2="1493.21" stroke="#1a1a1a" stroke-width="2.2"/>
<line x1="152.9" y1="1435.07" x2="158" y2="1435.07" stroke="#1a1a1a" stroke-width="2.2"/>
<line x1="152.9" y1="1376.93" x2="158" y2="1376.93" stroke="#1a1a1a" stroke-width="2.2"/>
<line x1="152.9" y1="1318.79" x2="158" y2="1318.79" stroke="#1a1a1a" stroke-width="2.2"/>
<line x1="191.4" y1="1289.3" x2="191.4" y2="1293.6" stroke="#1a1a1a" stroke-width="2.2"/>
<line x1="242.04" y1="1289.3" x2="242.04" y2="1297.8" stroke="#1a1a1a" stroke-width="2.2"/>
<line x1="292.68" y1="1289.3" x2="292.68" y2="1293.6" stroke="#1a1a1a" stroke-width="2.2"/>
<line x1="343.32" y1="1289.3" x2="343.32" y2="1297.8" stroke="#1a1a1a" stroke-width="2.2"/>
<line x1="393.96" y1="1289.3" x2="393.96" y2="1293.6" stroke="#1a1a1a" stroke-width="2.2"/>
<line x1="444.6" y1="1289.3" x2="444.6" y2="1297.8" stroke="#1a1a1a" stroke-width="2.2"/>
<line x1="495.24" y1="1289.3" x2="495.24" y2="1293.6" stroke="#1a1a1a" stroke-width="2.2"/>
<line x1="545.88" y1="1289.3" x2="545.88" y2="1297.8" stroke="#1a1a1a" stroke-width="2.2"/>
<line x1="596.52" y1="1289.3" x2="596.52" y2="1293.6" stroke="#1a1a1a" stroke-width="2.2"/>
<line x1="647.16" y1="1289.3" x2="647.16" y2="1297.8" stroke="#1a1a1a" stroke-width="2.2"/>
<line x1="153.7" y1="1703.5" x2="153.7" y2="1710.2" stroke="#1a1a1a" stroke-width="3.6" stroke-linecap="round"/>
<line x1="247.99" y1="1703.5" x2="247.99" y2="1710.2" stroke="#1a1a1a" stroke-width="3.6" stroke-linecap="round"/>
<line x1="342.28" y1="1703.5" x2="342.28" y2="1710.2" stroke="#1a1a1a" stroke-width="3.6" stroke-linecap="round"/>
<line x1="436.57" y1="1703.5" x2="436.57" y2="1710.2" stroke="#1a1a1a" stroke-width="3.6" stroke-linecap="round"/>
<line x1="530.86" y1="1703.5" x2="530.86" y2="1710.2" stroke="#1a1a1a" stroke-width="3.6" stroke-linecap="round"/>
<line x1="625.15" y1="1703.5" x2="625.15" y2="1710.2" stroke="#1a1a1a" stroke-width="3.6" stroke-linecap="round"/>
<line x1="200.84" y1="1703.5" x2="200.84" y2="1706.5" stroke="#1a1a1a" stroke-width="3.6" stroke-linecap="round"/>
<line x1="295.13" y1="1703.5" x2="295.13" y2="1706.5" stroke="#1a1a1a" stroke-width="3.6" stroke-linecap="round"/>
<line x1="389.42" y1="1703.5" x2="389.42" y2="1706.5" stroke="#1a1a1a" stroke-width="3.6" stroke-linecap="round"/>
<line x1="483.71" y1="1703.5" x2="483.71" y2="1706.5" stroke="#1a1a1a" stroke-width="3.6" stroke-linecap="round"/>
<line x1="578" y1="1703.5" x2="578" y2="1706.5" stroke="#1a1a1a" stroke-width="3.6" stroke-linecap="round"/>
<text x="125.48" y="1706.1" font-size="33.57" fill="#1a1a1a" textLength="18.73" lengthAdjust="spacingAndGlyphs">0</text>
<text x="87.93" y="1647.96" font-size="33.57" fill="#1a1a1a" textLength="56.29" lengthAdjust="spacingAndGlyphs">100</text>
<text x="88.83" y="1589.82" font-size="33.57" fill="#1a1a1a" textLength="55.37" lengthAdjust="spacingAndGlyphs">200</text>
<text x="89.25" y="1531.68" font-size="33.57" fill="#1a1a1a" textLength="54.94" lengthAdjust="spacingAndGlyphs">300</text>
<text x="89.75" y="1473.54" font-size="33.57" fill="#1a1a1a" textLength="54.42" lengthAdjust="spacingAndGlyphs">400</text>
<text x="89.18" y="1415.4" font-size="33.57" fill="#1a1a1a" textLength="55.01" lengthAdjust="spacingAndGlyphs">500</text>
<text x="88.81" y="1357.26" font-size="33.57" fill="#1a1a1a" textLength="55.38" lengthAdjust="spacingAndGlyphs">600</text>
<text x="88.8" y="1299.12" font-size="33.57" fill="#1a1a1a" textLength="55.4" lengthAdjust="spacingAndGlyphs">700</text>
<text x="144.68" y="1741.1" font-size="31.86" fill="#1a1a1a" textLength="18.03" lengthAdjust="spacingAndGlyphs">0</text>
<text x="229.69" y="1741.1" font-size="31.86" fill="#1a1a1a" textLength="36.64" lengthAdjust="spacingAndGlyphs">30</text>
<text x="323.54" y="1741.1" font-size="31.86" fill="#1a1a1a" textLength="37.1" lengthAdjust="spacingAndGlyphs">60</text>
<text x="417.96" y="1741.1" font-size="31.86" fill="#1a1a1a" textLength="36.96" lengthAdjust="spacingAndGlyphs">90</text>
<text x="502.69" y="1741.1" font-size="31.86" fill="#1a1a1a" textLength="55.11" lengthAdjust="spacingAndGlyphs">120</text>
<text x="596.98" y="1741.1" font-size="31.86" fill="#1a1a1a" textLength="55.11" lengthAdjust="spacingAndGlyphs">150</text>
<text x="168.16" y="1784.3" font-size="32.85" fill="#1a1a1a" textLength="428.01" lengthAdjust="spacingAndGlyphs">Illumination intensity (mW.cm</text>
<text x="596.44" y="1766.9" font-size="19.57" fill="#1a1a1a" textLength="17.24" lengthAdjust="spacingAndGlyphs">-2</text>
<text x="615.56" y="1784.3" font-size="32.85" fill="#1a1a1a" textLength="8.04" lengthAdjust="spacingAndGlyphs">)</text>
<text transform="translate(65.8,1670.8) rotate(-90)" x="-2.92" y="0" font-size="35.47" fill="#1a1a1a" textLength="327.27" lengthAdjust="spacingAndGlyphs">Photocurrent (µA cm</text>
<text transform="translate(46.9,1344.5) rotate(-90)" x="-0.91" y="0" font-size="21.14" fill="#1a1a1a" textLength="18.24" lengthAdjust="spacingAndGlyphs">-2</text>
<text transform="translate(65.8,1323.9) rotate(-90)" x="-0.15" y="0" font-size="35.47" fill="#1a1a1a" textLength="8.67" lengthAdjust="spacingAndGlyphs">)</text>
<text x="21.61" y="1250" font-size="41.08" fill="#1a1a1a" font-weight="bold" textLength="22.69" lengthAdjust="spacingAndGlyphs">e</text>
<line x1="181.2" y1="1320" x2="243.8" y2="1320" stroke="#1a1a1a" stroke-width="3.9" stroke-linecap="round"/>
<line x1="181.2" y1="1352.7" x2="243.8" y2="1352.7" stroke="#858585" stroke-width="3.9" stroke-linecap="round"/>
<text x="249.99" y="1328" font-size="22.38" fill="#1a1a1a" textLength="129.3" lengthAdjust="spacingAndGlyphs">Biointerface</text>
<text x="249.74" y="1360.6" font-size="22.38" fill="#1a1a1a" textLength="79.81" lengthAdjust="spacingAndGlyphs">Control</text>
<line x1="179.2" y1="1407.9" x2="218" y2="1407.9" stroke="#1a1a1a" stroke-width="2.3"/>
<line x1="179.2" y1="1432.1" x2="218" y2="1432.1" stroke="#1a1a1a" stroke-width="2.3"/>
<line x1="198.6" y1="1439.4" x2="198.6" y2="1463.4" stroke="#7c7c7c" stroke-width="2.2"/>
<line x1="188.3" y1="1439.4" x2="208.9" y2="1439.4" stroke="#7c7c7c" stroke-width="2.2"/>
<line x1="188.3" y1="1463.4" x2="208.9" y2="1463.4" stroke="#7c7c7c" stroke-width="2.2"/>
<text x="228.89" y="1427.3" font-size="20.03" fill="#1a1a1a" textLength="118.58" lengthAdjust="spacingAndGlyphs">mean ± s.d.</text>
<text x="228.89" y="1459.1" font-size="20.03" fill="#1a1a1a" textLength="143.48" lengthAdjust="spacingAndGlyphs">mean ± s.e.m.</text>
<path d="M180,1693.5 C181.08,1693.43 186.36,1693.7 190.8,1692.8 C195.24,1691.9 218.48,1686.28 224.4,1684.5 C230.32,1682.72 244.56,1677.07 250,1675 C255.44,1672.93 273.8,1665.35 278.8,1663.8 C283.8,1662.25 292.88,1660.36 300,1659.5 C307.12,1658.64 338.85,1656.41 350,1655.2 C361.15,1653.99 403.5,1649.92 411.5,1647.4 C419.5,1644.88 426.14,1633.86 430,1630 C433.86,1626.14 446.1,1612.6 450.1,1608.8 C454.1,1605 466.61,1594.48 470,1592 C473.39,1589.52 481.3,1585.65 484,1584 C486.7,1582.35 493.4,1576.75 497,1575.5 C500.6,1574.25 514.7,1572.49 520,1571.5 C525.3,1570.51 544.14,1566.74 550,1565.6 C555.86,1564.46 573.99,1560.86 578.6,1560.1 C583.21,1559.34 592.75,1558.35 596.1,1558 C599.45,1557.65 608.7,1556.92 612.1,1556.6 C615.5,1556.28 626.9,1555.06 630.1,1554.8 C633.3,1554.54 641.11,1554.13 644.1,1554 C647.09,1553.87 658.41,1553.55 660,1553.5" fill="none" stroke="#8a8a8a" stroke-width="1.6" stroke-linejoin="round" stroke-dasharray="5 3"/>
<path d="M175,1687.3 L178.2,1690.5 L175,1693.7 L171.8,1690.5 Z M178,1685.3 L181.2,1688.5 L178,1691.7 L174.8,1688.5 Z M181,1686.8 L184.2,1690 L181,1693.2 L177.8,1690 Z M177.5,1688.8 L180.7,1692 L177.5,1695.2 L174.3,1692 Z M183,1688.3 L186.2,1691.5 L183,1694.7 L179.8,1691.5 Z" fill="none" stroke="#858585" stroke-width="1.15"/>
<line x1="185" y1="1687.5" x2="192" y2="1687.5" stroke="#858585" stroke-width="3"/>
<line x1="185" y1="1693.5" x2="192" y2="1693.5" stroke="#858585" stroke-width="3"/>
<line x1="188.5" y1="1689" x2="188.5" y2="1692.5" stroke="#858585" stroke-width="2.4"/>
<line x1="186.3" y1="1689" x2="190.7" y2="1689" stroke="#858585" stroke-width="1.6"/>
<line x1="186.3" y1="1692.5" x2="190.7" y2="1692.5" stroke="#858585" stroke-width="1.6"/>
<path d="M209,1684.8 L212.2,1688 L209,1691.2 L205.8,1688 Z M212,1681.8 L215.2,1685 L212,1688.2 L208.8,1685 Z M214.5,1679.8 L217.7,1683 L214.5,1686.2 L211.3,1683 Z M210.5,1687.8 L213.7,1691 L210.5,1694.2 L207.3,1691 Z M213,1686.8 L216.2,1690 L213,1693.2 L209.8,1690 Z" fill="none" stroke="#858585" stroke-width="1.15"/>
<line x1="217" y1="1685" x2="225" y2="1685" stroke="#858585" stroke-width="3"/>
<line x1="217" y1="1692" x2="225" y2="1692" stroke="#858585" stroke-width="3"/>
<line x1="221" y1="1686.5" x2="221" y2="1690.5" stroke="#858585" stroke-width="2.4"/>
<line x1="218.8" y1="1686.5" x2="223.2" y2="1686.5" stroke="#858585" stroke-width="1.6"/>
<line x1="218.8" y1="1690.5" x2="223.2" y2="1690.5" stroke="#858585" stroke-width="1.6"/>
<path d="M278.3,1638.4 L281.5,1641.6 L278.3,1644.8 L275.1,1641.6 Z M276.6,1649.1 L279.8,1652.3 L276.6,1655.5 L273.4,1652.3 Z M283,1657.7 L286.2,1660.9 L283,1664.1 L279.8,1660.9 Z M279.5,1659.9 L282.7,1663.1 L279.5,1666.3 L276.3,1663.1 Z M281.6,1662.7 L284.8,1665.9 L281.6,1669.1 L278.4,1665.9 Z M279.8,1672.4 L283,1675.6 L279.8,1678.8 L276.6,1675.6 Z" fill="none" stroke="#858585" stroke-width="1.15"/>
<line x1="283.8" y1="1648.5" x2="293.8" y2="1648.5" stroke="#858585" stroke-width="3"/>
<line x1="283.8" y1="1671.4" x2="293.8" y2="1671.4" stroke="#858585" stroke-width="3"/>
<line x1="288.5" y1="1655.2" x2="288.5" y2="1665.2" stroke="#858585" stroke-width="2.4"/>
<line x1="286.3" y1="1655.2" x2="290.7" y2="1655.2" stroke="#858585" stroke-width="1.6"/>
<line x1="286.3" y1="1665.2" x2="290.7" y2="1665.2" stroke="#858585" stroke-width="1.6"/>
<path d="M415.1,1626.3 L418.3,1629.5 L415.1,1632.7 L411.9,1629.5 Z M412.9,1639.9 L416.1,1643.1 L412.9,1646.3 L409.7,1643.1 Z M417,1642.8 L420.2,1646 L417,1649.2 L413.8,1646 Z M411.5,1650.2 L414.7,1653.4 L411.5,1656.6 L408.3,1653.4 Z M415.1,1648.5 L418.3,1651.7 L415.1,1654.9 L411.9,1651.7 Z M418.4,1652.5 L421.6,1655.7 L418.4,1658.9 L415.2,1655.7 Z" fill="none" stroke="#858585" stroke-width="1.15"/>
<line x1="418.7" y1="1637.4" x2="428.7" y2="1637.4" stroke="#858585" stroke-width="3"/>
<line x1="418.7" y1="1656.3" x2="428.7" y2="1656.3" stroke="#858585" stroke-width="3"/>
<line x1="423.2" y1="1642.4" x2="423.2" y2="1650.5" stroke="#858585" stroke-width="2.4"/>
<line x1="421" y1="1642.4" x2="425.4" y2="1642.4" stroke="#858585" stroke-width="1.6"/>
<line x1="421" y1="1650.5" x2="425.4" y2="1650.5" stroke="#858585" stroke-width="1.6"/>
<path d="M449.1,1599.5 L452.3,1602.7 L449.1,1605.9 L445.9,1602.7 Z M445.6,1608 L448.8,1611.2 L445.6,1614.4 L442.4,1611.2 Z M447.3,1615.9 L450.5,1619.1 L447.3,1622.3 L444.1,1619.1 Z M452,1615.3 L455.2,1618.5 L452,1621.7 L448.8,1618.5 Z M450.9,1620.6 L454.1,1623.8 L450.9,1627 L447.7,1623.8 Z M449.1,1626.6 L452.3,1629.8 L449.1,1633 L445.9,1629.8 Z" fill="none" stroke="#858585" stroke-width="1.15"/>
<line x1="453" y1="1608.3" x2="462.3" y2="1608.3" stroke="#858585" stroke-width="3"/>
<line x1="453" y1="1626.9" x2="462.3" y2="1626.9" stroke="#858585" stroke-width="3"/>
<line x1="457.6" y1="1614" x2="457.6" y2="1621.9" stroke="#858585" stroke-width="2.4"/>
<line x1="455.4" y1="1614" x2="459.8" y2="1614" stroke="#858585" stroke-width="1.6"/>
<line x1="455.4" y1="1621.9" x2="459.8" y2="1621.9" stroke="#858585" stroke-width="1.6"/>
<path d="M484,1570.5 L487.2,1573.7 L484,1576.9 L480.8,1573.7 Z M481.3,1574.8 L484.5,1578 L481.3,1581.2 L478.1,1578 Z M479.5,1578.7 L482.7,1581.9 L479.5,1585.1 L476.3,1581.9 Z M483.8,1582.7 L487,1585.9 L483.8,1589.1 L480.6,1585.9 Z M481.3,1586.2 L484.5,1589.4 L481.3,1592.6 L478.1,1589.4 Z M485.9,1594.1 L489.1,1597.3 L485.9,1600.5 L482.7,1597.3 Z" fill="none" stroke="#858585" stroke-width="1.15"/>
<line x1="486.6" y1="1575.4" x2="496.2" y2="1575.4" stroke="#858585" stroke-width="3"/>
<line x1="486.6" y1="1593" x2="496.2" y2="1593" stroke="#858585" stroke-width="3"/>
<line x1="491.3" y1="1580.1" x2="491.3" y2="1588" stroke="#858585" stroke-width="2.4"/>
<line x1="489.1" y1="1580.1" x2="493.5" y2="1580.1" stroke="#858585" stroke-width="1.6"/>
<line x1="489.1" y1="1588" x2="493.5" y2="1588" stroke="#858585" stroke-width="1.6"/>
<path d="M514.2,1567.2 L517.4,1570.4 L514.2,1573.6 L511,1570.4 Z M513.1,1575.9 L516.3,1579.1 L513.1,1582.3 L509.9,1579.1 Z M517,1570.8 L520.2,1574 L517,1577.2 L513.8,1574 Z M520,1572.8 L523.2,1576 L520,1579.2 L516.8,1576 Z M523,1571.8 L526.2,1575 L523,1578.2 L519.8,1575 Z" fill="none" stroke="#858585" stroke-width="1.15"/>
<line x1="521" y1="1572.5" x2="529.5" y2="1572.5" stroke="#858585" stroke-width="3"/>
<line x1="521" y1="1579.5" x2="529.5" y2="1579.5" stroke="#858585" stroke-width="3"/>
<line x1="525" y1="1574" x2="525" y2="1578" stroke="#858585" stroke-width="2.4"/>
<line x1="522.8" y1="1574" x2="527.2" y2="1574" stroke="#858585" stroke-width="1.6"/>
<line x1="522.8" y1="1578" x2="527.2" y2="1578" stroke="#858585" stroke-width="1.6"/>
<path d="M584.1,1551.8 L587.3,1555 L584.1,1558.2 L580.9,1555 Z M586.1,1554.4 L589.3,1557.6 L586.1,1560.8 L582.9,1557.6 Z M582.6,1558.9 L585.8,1562.1 L582.6,1565.3 L579.4,1562.1 Z M580.6,1572.9 L583.8,1576.1 L580.6,1579.3 L577.4,1576.1 Z" fill="none" stroke="#858585" stroke-width="1.15"/>
<line x1="588.1" y1="1554.5" x2="597.6" y2="1554.5" stroke="#858585" stroke-width="3"/>
<line x1="588.1" y1="1569.3" x2="597.6" y2="1569.3" stroke="#858585" stroke-width="3"/>
<line x1="592.1" y1="1558" x2="592.1" y2="1565.1" stroke="#858585" stroke-width="2.4"/>
<line x1="589.9" y1="1558" x2="594.3" y2="1558" stroke="#858585" stroke-width="1.6"/>
<line x1="589.9" y1="1565.1" x2="594.3" y2="1565.1" stroke="#858585" stroke-width="1.6"/>
<path d="M618.6,1543 L621.8,1546.2 L618.6,1549.4 L615.4,1546.2 Z M616.6,1547.8 L619.8,1551 L616.6,1554.2 L613.4,1551 Z M614.6,1552.3 L617.8,1555.5 L614.6,1558.7 L611.4,1555.5 Z M619.6,1551.3 L622.8,1554.5 L619.6,1557.7 L616.4,1554.5 Z M621.1,1555.9 L624.3,1559.1 L621.1,1562.3 L617.9,1559.1 Z" fill="none" stroke="#858585" stroke-width="1.15"/>
<line x1="623.1" y1="1549" x2="631.6" y2="1549" stroke="#858585" stroke-width="3"/>
<line x1="623.1" y1="1557.3" x2="631.6" y2="1557.3" stroke="#858585" stroke-width="3"/>
<line x1="627.1" y1="1550" x2="627.1" y2="1556" stroke="#858585" stroke-width="2.4"/>
<line x1="624.9" y1="1550" x2="629.3" y2="1550" stroke="#858585" stroke-width="1.6"/>
<line x1="624.9" y1="1556" x2="629.3" y2="1556" stroke="#858585" stroke-width="1.6"/>
<path d="M651.7,1547.3 L654.9,1550.5 L651.7,1553.7 L648.5,1550.5 Z M648.7,1551.8 L651.9,1555 L648.7,1558.2 L645.5,1555 Z M654.2,1552.3 L657.4,1555.5 L654.2,1558.7 L651,1555.5 Z M650.2,1556.9 L653.4,1560.1 L650.2,1563.3 L647,1560.1 Z" fill="none" stroke="#858585" stroke-width="1.15"/>
<line x1="655.2" y1="1552" x2="662.7" y2="1552" stroke="#858585" stroke-width="3"/>
<line x1="655.2" y1="1558" x2="662.7" y2="1558" stroke="#858585" stroke-width="3"/>
<line x1="659" y1="1553" x2="659" y2="1557" stroke="#858585" stroke-width="2.4"/>
<line x1="656.8" y1="1553" x2="661.2" y2="1553" stroke="#858585" stroke-width="1.6"/>
<line x1="656.8" y1="1557" x2="661.2" y2="1557" stroke="#858585" stroke-width="1.6"/>
<path d="M172.9,1650.9 C176,1649.47 197.19,1641.04 203.9,1636.6 C210.61,1632.16 233.77,1611.86 240,1606.5 C246.23,1601.14 263.04,1585.86 266.2,1583 C269.36,1580.14 263.22,1581.19 271.6,1577.9 C279.98,1574.61 336.08,1555.03 350,1550.1 C363.92,1545.17 403.3,1532.91 410.8,1528.6 C418.3,1524.29 422.07,1511.86 425,1507 C427.93,1502.14 438.1,1483.86 440.1,1480 C442.1,1476.14 443.16,1474.18 445,1468.4 C446.84,1462.62 455.98,1430.68 458.5,1422.2 C461.02,1413.72 468.33,1389.52 470.2,1383.6 C472.07,1377.68 475.42,1366.11 477.2,1363 C478.98,1359.89 485.66,1354.07 488,1352.5 C490.34,1350.93 498.17,1348.46 500.6,1347.3 C503.03,1346.14 509.49,1341.66 512.3,1340.9 C515.11,1340.14 523.93,1339.99 528.7,1339.7 C533.47,1339.41 553.06,1338.46 560,1338 C566.94,1337.54 590.79,1335.79 598.1,1335.1 C605.41,1334.41 628.15,1331.77 633.1,1331.1 C638.05,1330.43 646.15,1328.67 647.6,1328.4" fill="none" stroke="#1a1a1a" stroke-width="1.6" stroke-linejoin="round" stroke-dasharray="5 3"/>
<path d="M162.9,1619.1 L166.1,1622.3 L162.9,1625.5 L159.7,1622.3 Z M161.2,1632.7 L164.4,1635.9 L161.2,1639.1 L158,1635.9 Z M163.2,1638.4 L166.4,1641.6 L163.2,1644.8 L160,1641.6 Z M164.7,1646.3 L167.9,1649.5 L164.7,1652.7 L161.5,1649.5 Z M160.7,1662 L163.9,1665.2 L160.7,1668.4 L157.5,1665.2 Z" fill="none" stroke="#1a1a1a" stroke-width="1.15"/>
<line x1="165.7" y1="1629.4" x2="175" y2="1629.4" stroke="#1a1a1a" stroke-width="3"/>
<line x1="165.7" y1="1663.8" x2="175" y2="1663.8" stroke="#1a1a1a" stroke-width="3"/>
<line x1="170.5" y1="1639.5" x2="170.5" y2="1653.8" stroke="#1a1a1a" stroke-width="2.4"/>
<line x1="168.3" y1="1639.5" x2="172.7" y2="1639.5" stroke="#1a1a1a" stroke-width="1.6"/>
<line x1="168.3" y1="1653.8" x2="172.7" y2="1653.8" stroke="#1a1a1a" stroke-width="1.6"/>
<path d="M195.8,1605.5 L199,1608.7 L195.8,1611.9 L192.6,1608.7 Z M195.8,1611.9 L199,1615.1 L195.8,1618.3 L192.6,1615.1 Z M198.4,1616.7 L201.6,1619.9 L198.4,1623.1 L195.2,1619.9 Z M192.9,1627.2 L196.1,1630.4 L192.9,1633.6 L189.7,1630.4 Z M194.3,1643.4 L197.5,1646.6 L194.3,1649.8 L191.1,1646.6 Z M196.9,1651 L200.1,1654.2 L196.9,1657.4 L193.7,1654.2 Z" fill="none" stroke="#1a1a1a" stroke-width="1.15"/>
<line x1="199.4" y1="1611" x2="208.7" y2="1611" stroke="#1a1a1a" stroke-width="3"/>
<line x1="199.4" y1="1647" x2="208.7" y2="1647" stroke="#1a1a1a" stroke-width="3"/>
<line x1="203.9" y1="1621.6" x2="203.9" y2="1636.6" stroke="#1a1a1a" stroke-width="2.4"/>
<line x1="201.7" y1="1621.6" x2="206.1" y2="1621.6" stroke="#1a1a1a" stroke-width="1.6"/>
<line x1="201.7" y1="1636.6" x2="206.1" y2="1636.6" stroke="#1a1a1a" stroke-width="1.6"/>
<path d="M261.9,1534.3 L265.1,1537.5 L261.9,1540.7 L258.7,1537.5 Z M264.4,1540.8 L267.6,1544 L264.4,1547.2 L261.2,1544 Z M261.3,1569.7 L264.5,1572.9 L261.3,1576.1 L258.1,1572.9 Z M263,1569.7 L266.2,1572.9 L263,1576.1 L259.8,1572.9 Z M266.2,1576.9 L269.4,1580.1 L266.2,1583.3 L263,1580.1 Z M263,1597.6 L266.2,1600.8 L263,1604 L259.8,1600.8 Z" fill="none" stroke="#1a1a1a" stroke-width="1.15"/>
<line x1="267.3" y1="1544.3" x2="276.6" y2="1544.3" stroke="#1a1a1a" stroke-width="3"/>
<line x1="267.3" y1="1591.5" x2="276.6" y2="1591.5" stroke="#1a1a1a" stroke-width="3"/>
<line x1="271.6" y1="1557.9" x2="271.6" y2="1577.9" stroke="#1a1a1a" stroke-width="2.4"/>
<line x1="269.4" y1="1557.9" x2="273.8" y2="1557.9" stroke="#1a1a1a" stroke-width="1.6"/>
<line x1="269.4" y1="1577.9" x2="273.8" y2="1577.9" stroke="#1a1a1a" stroke-width="1.6"/>
<path d="M398.4,1499.7 L401.6,1502.9 L398.4,1506.1 L395.2,1502.9 Z M395.1,1524 L398.3,1527.2 L395.1,1530.4 L391.9,1527.2 Z M397.2,1533.3 L400.4,1536.5 L397.2,1539.7 L394,1536.5 Z M399.4,1535.2 L402.6,1538.4 L399.4,1541.6 L396.2,1538.4 Z M401.5,1533.3 L404.7,1536.5 L401.5,1539.7 L398.3,1536.5 Z M400.1,1539 L403.3,1542.2 L400.1,1545.4 L396.9,1542.2 Z" fill="none" stroke="#1a1a1a" stroke-width="1.15"/>
<line x1="401.5" y1="1516" x2="411.5" y2="1516" stroke="#1a1a1a" stroke-width="3"/>
<line x1="401.5" y1="1545.5" x2="411.5" y2="1545.5" stroke="#1a1a1a" stroke-width="3"/>
<line x1="406.9" y1="1524.6" x2="406.9" y2="1536.5" stroke="#1a1a1a" stroke-width="2.4"/>
<line x1="404.7" y1="1524.6" x2="409.1" y2="1524.6" stroke="#1a1a1a" stroke-width="1.6"/>
<line x1="404.7" y1="1536.5" x2="409.1" y2="1536.5" stroke="#1a1a1a" stroke-width="1.6"/>
<path d="M430.2,1447 L433.4,1450.2 L430.2,1453.4 L427,1450.2 Z M431.3,1448.8 L434.5,1452 L431.3,1455.2 L428.1,1452 Z M428.7,1451.1 L431.9,1454.3 L428.7,1457.5 L425.5,1454.3 Z M435.1,1453.5 L438.3,1456.7 L435.1,1459.9 L431.9,1456.7 Z M433.3,1459.3 L436.5,1462.5 L433.3,1465.7 L430.1,1462.5 Z M431.8,1471 L435,1474.2 L431.8,1477.4 L428.6,1474.2 Z" fill="none" stroke="#1a1a1a" stroke-width="1.15"/>
<line x1="436.3" y1="1449.3" x2="445.6" y2="1449.3" stroke="#1a1a1a" stroke-width="3"/>
<line x1="436.3" y1="1467.5" x2="445.6" y2="1467.5" stroke="#1a1a1a" stroke-width="3"/>
<line x1="440.4" y1="1454.3" x2="440.4" y2="1461.9" stroke="#1a1a1a" stroke-width="2.4"/>
<line x1="438.2" y1="1454.3" x2="442.6" y2="1454.3" stroke="#1a1a1a" stroke-width="1.6"/>
<line x1="438.2" y1="1461.9" x2="442.6" y2="1461.9" stroke="#1a1a1a" stroke-width="1.6"/>
<path d="M469,1344.1 L472.2,1347.3 L469,1350.5 L465.8,1347.3 Z M465.3,1348.2 L468.5,1351.4 L465.3,1354.6 L462.1,1351.4 Z M462.2,1354.6 L465.4,1357.8 L462.2,1361 L459,1357.8 Z M467.6,1361.7 L470.8,1364.9 L467.6,1368.1 L464.4,1364.9 Z M466.4,1362.8 L469.6,1366 L466.4,1369.2 L463.2,1366 Z M463.7,1371.2 L466.9,1374.4 L463.7,1377.6 L460.5,1374.4 Z" fill="none" stroke="#1a1a1a" stroke-width="1.15"/>
<line x1="470.2" y1="1350.6" x2="479.5" y2="1350.6" stroke="#1a1a1a" stroke-width="3"/>
<line x1="470.2" y1="1370.5" x2="479.5" y2="1370.5" stroke="#1a1a1a" stroke-width="3"/>
<line x1="474.3" y1="1356.7" x2="474.3" y2="1364.9" stroke="#1a1a1a" stroke-width="2.4"/>
<line x1="472.1" y1="1356.7" x2="476.5" y2="1356.7" stroke="#1a1a1a" stroke-width="1.6"/>
<line x1="472.1" y1="1364.9" x2="476.5" y2="1364.9" stroke="#1a1a1a" stroke-width="1.6"/>
<path d="M501.8,1327.7 L505,1330.9 L501.8,1334.1 L498.6,1330.9 Z M497.1,1333.6 L500.3,1336.8 L497.1,1340 L493.9,1336.8 Z M496,1334.8 L499.2,1338 L496,1341.2 L492.8,1338 Z M500,1335.9 L503.2,1339.1 L500,1342.3 L496.8,1339.1 Z M503.5,1335.9 L506.7,1339.1 L503.5,1342.3 L500.3,1339.1 Z M500.4,1340 L503.6,1343.2 L500.4,1346.4 L497.2,1343.2 Z" fill="none" stroke="#1a1a1a" stroke-width="1.15"/>
<line x1="505.3" y1="1333.9" x2="512.9" y2="1333.9" stroke="#1a1a1a" stroke-width="3"/>
<line x1="505.3" y1="1341.2" x2="512.9" y2="1341.2" stroke="#1a1a1a" stroke-width="3"/>
<line x1="508.8" y1="1336.2" x2="508.8" y2="1340.3" stroke="#1a1a1a" stroke-width="2.4"/>
<line x1="506.6" y1="1336.2" x2="511" y2="1336.2" stroke="#1a1a1a" stroke-width="1.6"/>
<line x1="506.6" y1="1340.3" x2="511" y2="1340.3" stroke="#1a1a1a" stroke-width="1.6"/>
<path d="M567.2,1309.8 L570.4,1313 L567.2,1316.2 L564,1313 Z M564,1316.7 L567.2,1319.9 L564,1323.1 L560.8,1319.9 Z M568.7,1324.2 L571.9,1327.4 L568.7,1330.6 L565.5,1327.4 Z M567,1333.4 L570.2,1336.6 L567,1339.8 L563.8,1336.6 Z M570,1340.7 L573.2,1343.9 L570,1347.1 L566.8,1343.9 Z M565.5,1343.4 L568.7,1346.6 L565.5,1349.8 L562.3,1346.6 Z" fill="none" stroke="#1a1a1a" stroke-width="1.15"/>
<line x1="571" y1="1317.9" x2="580.9" y2="1317.9" stroke="#1a1a1a" stroke-width="3"/>
<line x1="571" y1="1344.6" x2="580.9" y2="1344.6" stroke="#1a1a1a" stroke-width="3"/>
<line x1="575.9" y1="1325.6" x2="575.9" y2="1337.1" stroke="#1a1a1a" stroke-width="2.4"/>
<line x1="573.7" y1="1325.6" x2="578.1" y2="1325.6" stroke="#1a1a1a" stroke-width="1.6"/>
<line x1="573.7" y1="1337.1" x2="578.1" y2="1337.1" stroke="#1a1a1a" stroke-width="1.6"/>
<path d="M604.1,1324.9 L607.3,1328.1 L604.1,1331.3 L600.9,1328.1 Z M600.1,1332.9 L603.3,1336.1 L600.1,1339.3 L596.9,1336.1 Z M601.1,1333.8 L604.3,1337 L601.1,1340.2 L597.9,1337 Z M597.6,1342.4 L600.8,1345.6 L597.6,1348.8 L594.4,1345.6 Z M602.1,1344.9 L605.3,1348.1 L602.1,1351.3 L598.9,1348.1 Z M600.9,1345.8 L604.1,1349 L600.9,1352.2 L597.7,1349 Z" fill="none" stroke="#1a1a1a" stroke-width="1.15"/>
<line x1="605.1" y1="1332.6" x2="614.6" y2="1332.6" stroke="#1a1a1a" stroke-width="3"/>
<line x1="605.1" y1="1348.4" x2="614.6" y2="1348.4" stroke="#1a1a1a" stroke-width="3"/>
<line x1="609.8" y1="1337.1" x2="609.8" y2="1343.6" stroke="#1a1a1a" stroke-width="2.4"/>
<line x1="607.6" y1="1337.1" x2="612" y2="1337.1" stroke="#1a1a1a" stroke-width="1.6"/>
<line x1="607.6" y1="1343.6" x2="612" y2="1343.6" stroke="#1a1a1a" stroke-width="1.6"/>
<path d="M634.6,1299.8 L637.8,1303 L634.6,1306.2 L631.4,1303 Z M637.4,1304 L640.6,1307.2 L637.4,1310.4 L634.2,1307.2 Z M631.9,1311.8 L635.1,1315 L631.9,1318.2 L628.7,1315 Z M636.1,1316.9 L639.3,1320.1 L636.1,1323.3 L632.9,1320.1 Z M633.4,1328.1 L636.6,1331.3 L633.4,1334.5 L630.2,1331.3 Z M634.6,1364.4 L637.8,1367.6 L634.6,1370.8 L631.4,1367.6 Z" fill="none" stroke="#1a1a1a" stroke-width="1.15"/>
<line x1="638.6" y1="1300.5" x2="648.2" y2="1300.5" stroke="#1a1a1a" stroke-width="3"/>
<line x1="638.6" y1="1347.6" x2="648.2" y2="1347.6" stroke="#1a1a1a" stroke-width="3"/>
<line x1="643.4" y1="1314.2" x2="643.4" y2="1334.1" stroke="#1a1a1a" stroke-width="2.4"/>
<line x1="641.2" y1="1314.2" x2="645.6" y2="1314.2" stroke="#1a1a1a" stroke-width="1.6"/>
<line x1="641.2" y1="1334.1" x2="645.6" y2="1334.1" stroke="#1a1a1a" stroke-width="1.6"/>
<line x1="884.5" y1="1288.6" x2="1388.4" y2="1288.6" stroke="#1a1a1a" stroke-width="2.2"/>
<line x1="884.5" y1="1287.5" x2="884.5" y2="1698.5" stroke="#1a1a1a" stroke-width="2.2"/>
<line x1="1388.4" y1="1287.5" x2="1388.4" y2="1699.5" stroke="#1a1a1a" stroke-width="2.3"/>
<line x1="884.5" y1="1698.5" x2="1388.4" y2="1698.5" stroke="#1a1a1a" stroke-width="4"/>
<line x1="876" y1="1698.5" x2="884.5" y2="1698.5" stroke="#1a1a1a" stroke-width="2.2"/>
<line x1="876" y1="1616.72" x2="884.5" y2="1616.72" stroke="#1a1a1a" stroke-width="2.2"/>
<line x1="876" y1="1534.94" x2="884.5" y2="1534.94" stroke="#1a1a1a" stroke-width="2.2"/>
<line x1="876" y1="1453.16" x2="884.5" y2="1453.16" stroke="#1a1a1a" stroke-width="2.2"/>
<line x1="876" y1="1371.38" x2="884.5" y2="1371.38" stroke="#1a1a1a" stroke-width="2.2"/>
<line x1="876" y1="1289.6" x2="884.5" y2="1289.6" stroke="#1a1a1a" stroke-width="2.2"/>
<line x1="879.5" y1="1657.61" x2="884.5" y2="1657.61" stroke="#1a1a1a" stroke-width="2.2"/>
<line x1="879.5" y1="1575.83" x2="884.5" y2="1575.83" stroke="#1a1a1a" stroke-width="2.2"/>
<line x1="879.5" y1="1494.05" x2="884.5" y2="1494.05" stroke="#1a1a1a" stroke-width="2.2"/>
<line x1="879.5" y1="1412.27" x2="884.5" y2="1412.27" stroke="#1a1a1a" stroke-width="2.2"/>
<line x1="879.5" y1="1330.49" x2="884.5" y2="1330.49" stroke="#1a1a1a" stroke-width="2.2"/>
<line x1="1379.4" y1="1288.6" x2="1388.4" y2="1288.6" stroke="#1a1a1a" stroke-width="2.2"/>
<line x1="1383.1" y1="1339.7" x2="1388.4" y2="1339.7" stroke="#1a1a1a" stroke-width="2.2"/>
<line x1="1379.4" y1="1390.8" x2="1388.4" y2="1390.8" stroke="#1a1a1a" stroke-width="2.2"/>
<line x1="1383.1" y1="1441.9" x2="1388.4" y2="1441.9" stroke="#1a1a1a" stroke-width="2.2"/>
<line x1="1379.4" y1="1493" x2="1388.4" y2="1493" stroke="#1a1a1a" stroke-width="2.2"/>
<line x1="1383.1" y1="1544.1" x2="1388.4" y2="1544.1" stroke="#1a1a1a" stroke-width="2.2"/>
<line x1="1379.4" y1="1595.2" x2="1388.4" y2="1595.2" stroke="#1a1a1a" stroke-width="2.2"/>
<line x1="1383.1" y1="1646.3" x2="1388.4" y2="1646.3" stroke="#1a1a1a" stroke-width="2.2"/>
<line x1="1379.4" y1="1697.4" x2="1388.4" y2="1697.4" stroke="#1a1a1a" stroke-width="2.2"/>
<line x1="918.1" y1="1288.6" x2="918.1" y2="1292.6" stroke="#1a1a1a" stroke-width="2.2"/>
<line x1="968.5" y1="1288.6" x2="968.5" y2="1296.6" stroke="#1a1a1a" stroke-width="2.2"/>
<line x1="1018.9" y1="1288.6" x2="1018.9" y2="1292.6" stroke="#1a1a1a" stroke-width="2.2"/>
<line x1="1069.3" y1="1288.6" x2="1069.3" y2="1296.6" stroke="#1a1a1a" stroke-width="2.2"/>
<line x1="1119.7" y1="1288.6" x2="1119.7" y2="1292.6" stroke="#1a1a1a" stroke-width="2.2"/>
<line x1="1170.1" y1="1288.6" x2="1170.1" y2="1296.6" stroke="#1a1a1a" stroke-width="2.2"/>
<line x1="1220.5" y1="1288.6" x2="1220.5" y2="1292.6" stroke="#1a1a1a" stroke-width="2.2"/>
<line x1="1270.9" y1="1288.6" x2="1270.9" y2="1296.6" stroke="#1a1a1a" stroke-width="2.2"/>
<line x1="1321.3" y1="1288.6" x2="1321.3" y2="1292.6" stroke="#1a1a1a" stroke-width="2.2"/>
<line x1="1371.7" y1="1288.6" x2="1371.7" y2="1296.6" stroke="#1a1a1a" stroke-width="2.2"/>
<line x1="883.7" y1="1707.5" x2="883.7" y2="1714" stroke="#1a1a1a" stroke-width="3.9" stroke-linecap="round"/>
<line x1="977.9" y1="1707.5" x2="977.9" y2="1714" stroke="#1a1a1a" stroke-width="3.9" stroke-linecap="round"/>
<line x1="1072.1" y1="1707.5" x2="1072.1" y2="1714" stroke="#1a1a1a" stroke-width="3.9" stroke-linecap="round"/>
<line x1="1166.3" y1="1707.5" x2="1166.3" y2="1714" stroke="#1a1a1a" stroke-width="3.9" stroke-linecap="round"/>
<line x1="1260.5" y1="1707.5" x2="1260.5" y2="1714" stroke="#1a1a1a" stroke-width="3.9" stroke-linecap="round"/>
<line x1="1354.7" y1="1707.5" x2="1354.7" y2="1714" stroke="#1a1a1a" stroke-width="3.9" stroke-linecap="round"/>
<line x1="930.8" y1="1707.5" x2="930.8" y2="1710.5" stroke="#1a1a1a" stroke-width="3.9" stroke-linecap="round"/>
<line x1="1025" y1="1707.5" x2="1025" y2="1710.5" stroke="#1a1a1a" stroke-width="3.9" stroke-linecap="round"/>
<line x1="1119.2" y1="1707.5" x2="1119.2" y2="1710.5" stroke="#1a1a1a" stroke-width="3.9" stroke-linecap="round"/>
<line x1="1213.4" y1="1707.5" x2="1213.4" y2="1710.5" stroke="#1a1a1a" stroke-width="3.9" stroke-linecap="round"/>
<line x1="1307.6" y1="1707.5" x2="1307.6" y2="1710.5" stroke="#1a1a1a" stroke-width="3.9" stroke-linecap="round"/>
<text x="809.57" y="1707.7" font-size="32.57" fill="#1a1a1a" textLength="61.05" lengthAdjust="spacingAndGlyphs">0.00</text>
<text x="809.58" y="1625.92" font-size="32.57" fill="#1a1a1a" textLength="60.73" lengthAdjust="spacingAndGlyphs">0.04</text>
<text x="809.57" y="1544.14" font-size="32.57" fill="#1a1a1a" textLength="61.19" lengthAdjust="spacingAndGlyphs">0.08</text>
<text x="809.57" y="1462.36" font-size="32.57" fill="#1a1a1a" textLength="61.42" lengthAdjust="spacingAndGlyphs">0.12</text>
<text x="809.57" y="1380.58" font-size="32.57" fill="#1a1a1a" textLength="61.21" lengthAdjust="spacingAndGlyphs">0.16</text>
<text x="809.57" y="1298.8" font-size="32.57" fill="#1a1a1a" textLength="61.05" lengthAdjust="spacingAndGlyphs">0.20</text>
<text x="874.68" y="1745" font-size="31.71" fill="#1a1a1a" textLength="18.03" lengthAdjust="spacingAndGlyphs">0</text>
<text x="959.6" y="1745" font-size="31.71" fill="#1a1a1a" textLength="36.64" lengthAdjust="spacingAndGlyphs">30</text>
<text x="1053.36" y="1745" font-size="31.71" fill="#1a1a1a" textLength="37.1" lengthAdjust="spacingAndGlyphs">60</text>
<text x="1147.69" y="1745" font-size="31.71" fill="#1a1a1a" textLength="36.96" lengthAdjust="spacingAndGlyphs">90</text>
<text x="1232.33" y="1745" font-size="31.71" fill="#1a1a1a" textLength="55.11" lengthAdjust="spacingAndGlyphs">120</text>
<text x="1326.53" y="1745" font-size="31.71" fill="#1a1a1a" textLength="55.11" lengthAdjust="spacingAndGlyphs">150</text>
<text x="898.26" y="1787.7" font-size="32.85" fill="#1a1a1a" textLength="428.01" lengthAdjust="spacingAndGlyphs">Illumination intensity (mW.cm</text>
<text x="1326.54" y="1770.3" font-size="19.57" fill="#1a1a1a" textLength="17.24" lengthAdjust="spacingAndGlyphs">-2</text>
<text x="1345.66" y="1787.7" font-size="32.85" fill="#1a1a1a" textLength="8.04" lengthAdjust="spacingAndGlyphs">)</text>
<text transform="translate(790.3,1620.8) rotate(-90)" x="-1.7" y="0" font-size="35.47" fill="#1a1a1a" textLength="227.61" lengthAdjust="spacingAndGlyphs">Charge (µC cm</text>
<text transform="translate(772,1392.8) rotate(-90)" x="-0.89" y="0" font-size="21.14" fill="#1a1a1a" textLength="17.91" lengthAdjust="spacingAndGlyphs">-2</text>
<text transform="translate(790.3,1371.5) rotate(-90)" x="-0.15" y="0" font-size="35.47" fill="#1a1a1a" textLength="8.67" lengthAdjust="spacingAndGlyphs">)</text>
<text x="689.84" y="1249.9" font-size="42.92" fill="#1a1a1a" font-weight="bold" textLength="14.77" lengthAdjust="spacingAndGlyphs">f</text>
<line x1="904.7" y1="1319.6" x2="967.3" y2="1319.6" stroke="#1a1a1a" stroke-width="3.9" stroke-linecap="round"/>
<line x1="904.7" y1="1352.3" x2="967.3" y2="1352.3" stroke="#858585" stroke-width="3.9" stroke-linecap="round"/>
<text x="973.49" y="1327.6" font-size="22.38" fill="#1a1a1a" textLength="129.3" lengthAdjust="spacingAndGlyphs">Biointerface</text>
<text x="973.24" y="1360.2" font-size="22.38" fill="#1a1a1a" textLength="79.81" lengthAdjust="spacingAndGlyphs">Control</text>
<line x1="902.7" y1="1407.5" x2="941.5" y2="1407.5" stroke="#1a1a1a" stroke-width="2.3"/>
<line x1="902.7" y1="1431.7" x2="941.5" y2="1431.7" stroke="#1a1a1a" stroke-width="2.3"/>
<line x1="922.1" y1="1439" x2="922.1" y2="1463" stroke="#7c7c7c" stroke-width="2.2"/>
<line x1="911.8" y1="1439" x2="932.4" y2="1439" stroke="#7c7c7c" stroke-width="2.2"/>
<line x1="911.8" y1="1463" x2="932.4" y2="1463" stroke="#7c7c7c" stroke-width="2.2"/>
<text x="952.39" y="1426.9" font-size="20.03" fill="#1a1a1a" textLength="118.58" lengthAdjust="spacingAndGlyphs">mean ± s.d.</text>
<text x="952.39" y="1458.7" font-size="20.03" fill="#1a1a1a" textLength="143.48" lengthAdjust="spacingAndGlyphs">mean ± s.e.m.</text>
<path d="M893,1684 C893.76,1683.39 898.01,1679.77 900.6,1677.9 C903.19,1676.03 915.7,1667.48 918.9,1665.3 C922.1,1663.12 928.49,1658.83 932.6,1656.1 C936.71,1653.37 954.27,1641.66 960,1638 C965.73,1634.34 986.11,1621.92 989.9,1619.5 C993.69,1617.08 992.89,1615.69 997.9,1613.8 C1002.91,1611.91 1034.07,1602.59 1040,1600.6 C1045.93,1598.61 1049.76,1596.06 1057.2,1593.9 C1064.64,1591.74 1106.62,1580.83 1114.4,1579 C1122.18,1577.17 1131.54,1577.51 1135,1575.6 C1138.46,1573.69 1146.5,1563.22 1149,1559.9 C1151.5,1556.58 1158.04,1545.03 1160,1542.4 C1161.96,1539.77 1165.49,1536.43 1168.6,1533.6 C1171.71,1530.77 1187.94,1516.66 1191.1,1514.1 C1194.26,1511.54 1196.59,1510.56 1200.2,1508 C1203.81,1505.44 1223.6,1491.2 1227.2,1488.5 C1230.8,1485.8 1230.03,1485.36 1236.2,1481 C1242.37,1476.64 1282.07,1449.63 1288.9,1444.9 C1295.73,1440.17 1300.82,1435.15 1304.5,1433.7 C1308.18,1432.25 1320.68,1431.29 1325.7,1430.4 C1330.72,1429.51 1350.47,1425.58 1354.7,1424.8 C1358.93,1424.02 1366.67,1422.82 1368,1422.6" fill="none" stroke="#1a1a1a" stroke-width="1.6" stroke-linejoin="round" stroke-dasharray="5 3"/>
<path d="M901,1676.5 C902.4,1672.85 911.84,1648.9 915,1640 C918.16,1631.1 928.89,1593.78 932.6,1587.5 C936.31,1581.22 944.77,1579.84 952.1,1577.2 C959.43,1574.56 999.39,1563.55 1005.9,1561.1 C1012.41,1558.65 1012.07,1555.71 1017.2,1552.7 C1022.33,1549.69 1048.62,1535.46 1057.2,1531 C1065.78,1526.54 1094.99,1512.68 1103,1508.1 C1111.01,1503.52 1132.47,1488.96 1137.3,1485.2 C1142.13,1481.44 1147.65,1473.78 1151.3,1470.5 C1154.95,1467.22 1168.76,1459.62 1173.8,1452.4 C1178.84,1445.18 1197.41,1404.31 1201.7,1398.3 C1205.99,1392.29 1213.1,1393.73 1216.7,1392.3 C1220.3,1390.87 1234.17,1385.36 1237.7,1384 C1241.23,1382.64 1248.77,1379.74 1252,1378.7 C1255.23,1377.66 1264.52,1375.56 1270,1373.6 C1275.48,1371.64 1301.79,1360.66 1306.8,1359.1 C1311.81,1357.54 1317.1,1358.28 1320.1,1358 C1323.1,1357.72 1333.23,1357.64 1336.8,1356.3 C1340.37,1354.96 1352.29,1346.83 1355.8,1344.6 C1359.31,1342.37 1368.98,1335.76 1371.9,1334 C1374.82,1332.24 1383.69,1327.7 1385,1327" fill="none" stroke="#1a1a1a" stroke-width="1.6" stroke-linejoin="round" stroke-dasharray="5 3"/>
<path d="M889.2,1671.2 L892.4,1674.4 L889.2,1677.6 L886,1674.4 Z M886.9,1677 L890.1,1680.2 L886.9,1683.4 L883.7,1680.2 Z M891.4,1678.1 L894.6,1681.3 L891.4,1684.5 L888.2,1681.3 Z M886.9,1683.8 L890.1,1687 L886.9,1690.2 L883.7,1687 Z M890.3,1682.7 L893.5,1685.9 L890.3,1689.1 L887.1,1685.9 Z" fill="none" stroke="#858585" stroke-width="1.15"/>
<line x1="893.7" y1="1677.9" x2="901.7" y2="1677.9" stroke="#858585" stroke-width="3"/>
<line x1="893.7" y1="1685.3" x2="901.7" y2="1685.3" stroke="#858585" stroke-width="3"/>
<line x1="897.7" y1="1679.5" x2="897.7" y2="1683.5" stroke="#858585" stroke-width="2.4"/>
<line x1="895.5" y1="1679.5" x2="899.9" y2="1679.5" stroke="#858585" stroke-width="1.6"/>
<line x1="895.5" y1="1683.5" x2="899.9" y2="1683.5" stroke="#858585" stroke-width="1.6"/>
<path d="M920.1,1643.2 L923.3,1646.4 L920.1,1649.6 L916.9,1646.4 Z M922,1643.8 L925.2,1647 L922,1650.2 L918.8,1647 Z M923.5,1651.8 L926.7,1655 L923.5,1658.2 L920.3,1655 Z M925,1650.8 L928.2,1654 L925,1657.2 L921.8,1654 Z" fill="none" stroke="#858585" stroke-width="1.15"/>
<line x1="926.9" y1="1645.8" x2="935.5" y2="1645.8" stroke="#858585" stroke-width="3"/>
<line x1="926.9" y1="1655.6" x2="935.5" y2="1655.6" stroke="#858585" stroke-width="3"/>
<line x1="930.9" y1="1648" x2="930.9" y2="1653" stroke="#858585" stroke-width="2.4"/>
<line x1="928.7" y1="1648" x2="933.1" y2="1648" stroke="#858585" stroke-width="1.6"/>
<line x1="928.7" y1="1653" x2="933.1" y2="1653" stroke="#858585" stroke-width="1.6"/>
<path d="M992.2,1594.6 L995.4,1597.8 L992.2,1601 L989,1597.8 Z M986.4,1602.6 L989.6,1605.8 L986.4,1609 L983.2,1605.8 Z M989.3,1608.9 L992.5,1612.1 L989.3,1615.3 L986.1,1612.1 Z M987,1613.5 L990.2,1616.7 L987,1619.9 L983.8,1616.7 Z M990.5,1613.8 L993.7,1617 L990.5,1620.2 L987.3,1617 Z" fill="none" stroke="#858585" stroke-width="1.15"/>
<line x1="993.3" y1="1603.5" x2="1002.5" y2="1603.5" stroke="#858585" stroke-width="3"/>
<line x1="993.3" y1="1619.5" x2="1002.5" y2="1619.5" stroke="#858585" stroke-width="3"/>
<line x1="997.9" y1="1608" x2="997.9" y2="1614.4" stroke="#858585" stroke-width="2.4"/>
<line x1="995.7" y1="1608" x2="1000.1" y2="1608" stroke="#858585" stroke-width="1.6"/>
<line x1="995.7" y1="1614.4" x2="1000.1" y2="1614.4" stroke="#858585" stroke-width="1.6"/>
<path d="M1120.2,1564.4 L1123.4,1567.6 L1120.2,1570.8 L1117,1567.6 Z M1123,1567.8 L1126.2,1571 L1123,1574.2 L1119.8,1571 Z M1125.2,1570.1 L1128.4,1573.3 L1125.2,1576.5 L1122,1573.3 Z M1123.6,1577 L1126.8,1580.2 L1123.6,1583.4 L1120.4,1580.2 Z" fill="none" stroke="#858585" stroke-width="1.15"/>
<line x1="1130.5" y1="1568.7" x2="1137.3" y2="1568.7" stroke="#858585" stroke-width="3"/>
<line x1="1130.5" y1="1578.5" x2="1137.3" y2="1578.5" stroke="#858585" stroke-width="3"/>
<line x1="1133.9" y1="1571" x2="1133.9" y2="1576.5" stroke="#858585" stroke-width="2.4"/>
<line x1="1131.7" y1="1571" x2="1136.1" y2="1571" stroke="#858585" stroke-width="1.6"/>
<line x1="1131.7" y1="1576.5" x2="1136.1" y2="1576.5" stroke="#858585" stroke-width="1.6"/>
<path d="M1154.3,1520.6 L1157.5,1523.8 L1154.3,1527 L1151.1,1523.8 Z M1156,1523.1 L1159.2,1526.3 L1156,1529.5 L1152.8,1526.3 Z M1158.8,1527.4 L1162,1530.6 L1158.8,1533.8 L1155.6,1530.6 Z M1157.3,1536.4 L1160.5,1539.6 L1157.3,1542.8 L1154.1,1539.6 Z" fill="none" stroke="#858585" stroke-width="1.15"/>
<line x1="1161" y1="1524.1" x2="1170.8" y2="1524.1" stroke="#858585" stroke-width="3"/>
<line x1="1161" y1="1535.1" x2="1170.8" y2="1535.1" stroke="#858585" stroke-width="3"/>
<line x1="1166.3" y1="1527" x2="1166.3" y2="1533" stroke="#858585" stroke-width="2.4"/>
<line x1="1164.1" y1="1527" x2="1168.5" y2="1527" stroke="#858585" stroke-width="1.6"/>
<line x1="1164.1" y1="1533" x2="1168.5" y2="1533" stroke="#858585" stroke-width="1.6"/>
<path d="M1188.1,1495.8 L1191.3,1499 L1188.1,1502.2 L1184.9,1499 Z M1191,1499.2 L1194.2,1502.4 L1191,1505.6 L1187.8,1502.4 Z M1192.6,1502.6 L1195.8,1505.8 L1192.6,1509 L1189.4,1505.8 Z M1191.9,1507.1 L1195.1,1510.3 L1191.9,1513.5 L1188.7,1510.3 Z M1190.4,1512.4 L1193.6,1515.6 L1190.4,1518.8 L1187.2,1515.6 Z" fill="none" stroke="#858585" stroke-width="1.15"/>
<line x1="1194.9" y1="1498.6" x2="1204.7" y2="1498.6" stroke="#858585" stroke-width="3"/>
<line x1="1194.9" y1="1511.8" x2="1204.7" y2="1511.8" stroke="#858585" stroke-width="3"/>
<line x1="1199.8" y1="1502" x2="1199.8" y2="1508.5" stroke="#858585" stroke-width="2.4"/>
<line x1="1197.6" y1="1502" x2="1202" y2="1502" stroke="#858585" stroke-width="1.6"/>
<line x1="1197.6" y1="1508.5" x2="1202" y2="1508.5" stroke="#858585" stroke-width="1.6"/>
<path d="M1221.2,1470 L1224.4,1473.2 L1221.2,1476.4 L1218,1473.2 Z M1223.5,1473.3 L1226.7,1476.5 L1223.5,1479.7 L1220.3,1476.5 Z M1222,1478.5 L1225.2,1481.7 L1222,1484.9 L1218.8,1481.7 Z M1225.7,1477.8 L1228.9,1481 L1225.7,1484.2 L1222.5,1481 Z M1227.2,1483.8 L1230.4,1487 L1227.2,1490.2 L1224,1487 Z" fill="none" stroke="#858585" stroke-width="1.15"/>
<line x1="1228.7" y1="1475" x2="1237.7" y2="1475" stroke="#858585" stroke-width="3"/>
<line x1="1228.7" y1="1485" x2="1237.7" y2="1485" stroke="#858585" stroke-width="3"/>
<line x1="1233.2" y1="1477.5" x2="1233.2" y2="1482.5" stroke="#858585" stroke-width="2.4"/>
<line x1="1231" y1="1477.5" x2="1235.4" y2="1477.5" stroke="#858585" stroke-width="1.6"/>
<line x1="1231" y1="1482.5" x2="1235.4" y2="1482.5" stroke="#858585" stroke-width="1.6"/>
<path d="M1288.4,1426.6 L1291.6,1429.8 L1288.4,1433 L1285.2,1429.8 Z M1293.4,1434.4 L1296.6,1437.6 L1293.4,1440.8 L1290.2,1437.6 Z M1290.6,1441.1 L1293.8,1444.3 L1290.6,1447.5 L1287.4,1444.3 Z M1295.6,1440 L1298.8,1443.2 L1295.6,1446.4 L1292.4,1443.2 Z M1291.7,1445 L1294.9,1448.2 L1291.7,1451.4 L1288.5,1448.2 Z" fill="none" stroke="#858585" stroke-width="1.15"/>
<line x1="1296.2" y1="1434.1" x2="1305.1" y2="1434.1" stroke="#858585" stroke-width="3"/>
<line x1="1296.2" y1="1446.8" x2="1305.1" y2="1446.8" stroke="#858585" stroke-width="3"/>
<line x1="1299.5" y1="1437" x2="1299.5" y2="1443.5" stroke="#858585" stroke-width="2.4"/>
<line x1="1297.3" y1="1437" x2="1301.7" y2="1437" stroke="#858585" stroke-width="1.6"/>
<line x1="1297.3" y1="1443.5" x2="1301.7" y2="1443.5" stroke="#858585" stroke-width="1.6"/>
<path d="M1321.8,1421.1 L1325,1424.3 L1321.8,1427.5 L1318.6,1424.3 Z M1327.4,1418.8 L1330.6,1422 L1327.4,1425.2 L1324.2,1422 Z M1324.6,1423.8 L1327.8,1427 L1324.6,1430.2 L1321.4,1427 Z M1330.2,1422.8 L1333.4,1426 L1330.2,1429.2 L1327,1426 Z" fill="none" stroke="#858585" stroke-width="1.15"/>
<line x1="1330.2" y1="1423.7" x2="1338.5" y2="1423.7" stroke="#858585" stroke-width="3"/>
<line x1="1330.2" y1="1428.2" x2="1338.5" y2="1428.2" stroke="#858585" stroke-width="3"/>
<line x1="1334.5" y1="1424.5" x2="1334.5" y2="1427.5" stroke="#858585" stroke-width="2.4"/>
<line x1="1332.3" y1="1424.5" x2="1336.7" y2="1424.5" stroke="#858585" stroke-width="1.6"/>
<line x1="1332.3" y1="1427.5" x2="1336.7" y2="1427.5" stroke="#858585" stroke-width="1.6"/>
<path d="M1359.1,1404.9 L1362.3,1408.1 L1359.1,1411.3 L1355.9,1408.1 Z M1359.7,1409.9 L1362.9,1413.1 L1359.7,1416.3 L1356.5,1413.1 Z M1357.4,1415.5 L1360.6,1418.7 L1357.4,1421.9 L1354.2,1418.7 Z M1355.2,1419.4 L1358.4,1422.6 L1355.2,1425.8 L1352,1422.6 Z M1362.5,1421.6 L1365.7,1424.8 L1362.5,1428 L1359.3,1424.8 Z" fill="none" stroke="#858585" stroke-width="1.15"/>
<line x1="1363.6" y1="1410.1" x2="1372.5" y2="1410.1" stroke="#858585" stroke-width="3"/>
<line x1="1363.6" y1="1422.9" x2="1372.5" y2="1422.9" stroke="#858585" stroke-width="3"/>
<line x1="1367.5" y1="1413" x2="1367.5" y2="1420" stroke="#858585" stroke-width="2.4"/>
<line x1="1365.3" y1="1413" x2="1369.7" y2="1413" stroke="#858585" stroke-width="1.6"/>
<line x1="1365.3" y1="1420" x2="1369.7" y2="1420" stroke="#858585" stroke-width="1.6"/>
<path d="M901.7,1670.1 L904.9,1673.3 L901.7,1676.5 L898.5,1673.3 Z M904,1660.9 L907.2,1664.1 L904,1667.3 L900.8,1664.1 Z M908,1658.7 L911.2,1661.9 L908,1665.1 L904.8,1661.9 Z M906.3,1665.5 L909.5,1668.7 L906.3,1671.9 L903.1,1668.7 Z M909.8,1663.8 L913,1667 L909.8,1670.2 L906.6,1667 Z" fill="none" stroke="#1a1a1a" stroke-width="1.15"/>
<line x1="912" y1="1663.6" x2="918.3" y2="1663.6" stroke="#1a1a1a" stroke-width="3"/>
<line x1="912" y1="1671" x2="918.3" y2="1671" stroke="#1a1a1a" stroke-width="3"/>
<line x1="915" y1="1665" x2="915" y2="1670" stroke="#1a1a1a" stroke-width="2.4"/>
<line x1="912.8" y1="1665" x2="917.2" y2="1665" stroke="#1a1a1a" stroke-width="1.6"/>
<line x1="912.8" y1="1670" x2="917.2" y2="1670" stroke="#1a1a1a" stroke-width="1.6"/>
<path d="M938.9,1567.7 L942.1,1570.9 L938.9,1574.1 L935.7,1570.9 Z M937.2,1576.3 L940.4,1579.5 L937.2,1582.7 L934,1579.5 Z M940.1,1580.3 L943.3,1583.5 L940.1,1586.7 L936.9,1583.5 Z M935.5,1586 L938.7,1589.2 L935.5,1592.4 L932.3,1589.2 Z M941.8,1587.7 L945,1590.9 L941.8,1594.1 L938.6,1590.9 Z" fill="none" stroke="#1a1a1a" stroke-width="1.15"/>
<line x1="943.5" y1="1574.9" x2="952.1" y2="1574.9" stroke="#1a1a1a" stroke-width="3"/>
<line x1="943.5" y1="1590" x2="952.1" y2="1590" stroke="#1a1a1a" stroke-width="3"/>
<line x1="947.5" y1="1580" x2="947.5" y2="1585.8" stroke="#1a1a1a" stroke-width="2.4"/>
<line x1="945.3" y1="1580" x2="949.7" y2="1580" stroke="#1a1a1a" stroke-width="1.6"/>
<line x1="945.3" y1="1585.8" x2="949.7" y2="1585.8" stroke="#1a1a1a" stroke-width="1.6"/>
<path d="M1004.6,1550.1 L1007.8,1553.3 L1004.6,1556.5 L1001.4,1553.3 Z M1003.4,1551.8 L1006.6,1555 L1003.4,1558.2 L1000.2,1555 Z M1009.2,1558.7 L1012.4,1561.9 L1009.2,1565.1 L1006,1561.9 Z M1007.4,1562.1 L1010.6,1565.3 L1007.4,1568.5 L1004.2,1565.3 Z M1006.3,1580.4 L1009.5,1583.6 L1006.3,1586.8 L1003.1,1583.6 Z" fill="none" stroke="#1a1a1a" stroke-width="1.15"/>
<line x1="1009.7" y1="1550.4" x2="1019.5" y2="1550.4" stroke="#1a1a1a" stroke-width="3"/>
<line x1="1009.7" y1="1573.9" x2="1019.5" y2="1573.9" stroke="#1a1a1a" stroke-width="3"/>
<line x1="1014.6" y1="1555" x2="1014.6" y2="1567" stroke="#1a1a1a" stroke-width="2.4"/>
<line x1="1012.4" y1="1555" x2="1016.8" y2="1555" stroke="#1a1a1a" stroke-width="1.6"/>
<line x1="1012.4" y1="1567" x2="1016.8" y2="1567" stroke="#1a1a1a" stroke-width="1.6"/>
<path d="M1143.6,1460 L1146.8,1463.2 L1143.6,1466.4 L1140.4,1463.2 Z M1141.9,1479.7 L1145.1,1482.9 L1141.9,1486.1 L1138.7,1482.9 Z M1138.5,1482 L1141.7,1485.2 L1138.5,1488.4 L1135.3,1485.2 Z M1136.8,1483.7 L1140,1486.9 L1136.8,1490.1 L1133.6,1486.9 Z M1140.5,1494 L1143.7,1497.2 L1140.5,1500.4 L1137.3,1497.2 Z" fill="none" stroke="#1a1a1a" stroke-width="1.15"/>
<line x1="1144.8" y1="1471.4" x2="1153.9" y2="1471.4" stroke="#1a1a1a" stroke-width="3"/>
<line x1="1144.8" y1="1494.3" x2="1153.9" y2="1494.3" stroke="#1a1a1a" stroke-width="3"/>
<line x1="1149" y1="1478.9" x2="1149" y2="1488" stroke="#1a1a1a" stroke-width="2.4"/>
<line x1="1146.8" y1="1478.9" x2="1151.2" y2="1478.9" stroke="#1a1a1a" stroke-width="1.6"/>
<line x1="1146.8" y1="1488" x2="1151.2" y2="1488" stroke="#1a1a1a" stroke-width="1.6"/>
<path d="M1170.8,1450.7 L1174,1453.9 L1170.8,1457.1 L1167.6,1453.9 Z M1173.5,1452.8 L1176.7,1456 L1173.5,1459.2 L1170.3,1456 Z M1176.8,1455.2 L1180,1458.4 L1176.8,1461.6 L1173.6,1458.4 Z M1174.9,1462 L1178.1,1465.2 L1174.9,1468.4 L1171.7,1465.2 Z M1172,1457.8 L1175.2,1461 L1172,1464.2 L1168.8,1461 Z" fill="none" stroke="#1a1a1a" stroke-width="1.15"/>
<line x1="1179.8" y1="1453.9" x2="1187.4" y2="1453.9" stroke="#1a1a1a" stroke-width="3"/>
<line x1="1179.8" y1="1462.2" x2="1187.4" y2="1462.2" stroke="#1a1a1a" stroke-width="3"/>
<line x1="1183.6" y1="1455.5" x2="1183.6" y2="1460.5" stroke="#1a1a1a" stroke-width="2.4"/>
<line x1="1181.4" y1="1455.5" x2="1185.8" y2="1455.5" stroke="#1a1a1a" stroke-width="1.6"/>
<line x1="1181.4" y1="1460.5" x2="1185.8" y2="1460.5" stroke="#1a1a1a" stroke-width="1.6"/>
<path d="M1205.7,1383 L1208.9,1386.2 L1205.7,1389.4 L1202.5,1386.2 Z M1211.4,1387.9 L1214.6,1391.1 L1211.4,1394.3 L1208.2,1391.1 Z M1208.4,1392.1 L1211.6,1395.3 L1208.4,1398.5 L1205.2,1395.3 Z M1206.2,1395.1 L1209.4,1398.3 L1206.2,1401.5 L1203,1398.3 Z M1204.4,1407.9 L1207.6,1411.1 L1204.4,1414.3 L1201.2,1411.1 Z" fill="none" stroke="#1a1a1a" stroke-width="1.15"/>
<line x1="1212.2" y1="1388.5" x2="1221.2" y2="1388.5" stroke="#1a1a1a" stroke-width="3"/>
<line x1="1212.2" y1="1405" x2="1221.2" y2="1405" stroke="#1a1a1a" stroke-width="3"/>
<line x1="1216.7" y1="1392.3" x2="1216.7" y2="1399.8" stroke="#1a1a1a" stroke-width="2.4"/>
<line x1="1214.5" y1="1392.3" x2="1218.9" y2="1392.3" stroke="#1a1a1a" stroke-width="1.6"/>
<line x1="1214.5" y1="1399.8" x2="1218.9" y2="1399.8" stroke="#1a1a1a" stroke-width="1.6"/>
<path d="M1241.5,1361.2 L1244.7,1364.4 L1241.5,1367.6 L1238.3,1364.4 Z M1240,1373.3 L1243.2,1376.5 L1240,1379.7 L1236.8,1376.5 Z M1238,1380.8 L1241.2,1384 L1238,1387.2 L1234.8,1384 Z M1245,1381.2 L1248.2,1384.4 L1245,1387.6 L1241.8,1384.4 Z M1243.3,1396.9 L1246.5,1400.1 L1243.3,1403.3 L1240.1,1400.1 Z M1241.5,1401.8 L1244.7,1405 L1241.5,1408.2 L1238.3,1405 Z" fill="none" stroke="#1a1a1a" stroke-width="1.15"/>
<line x1="1245.3" y1="1370.8" x2="1255" y2="1370.8" stroke="#1a1a1a" stroke-width="3"/>
<line x1="1245.3" y1="1400.5" x2="1255" y2="1400.5" stroke="#1a1a1a" stroke-width="3"/>
<line x1="1249.8" y1="1379.9" x2="1249.8" y2="1392.3" stroke="#1a1a1a" stroke-width="2.4"/>
<line x1="1247.6" y1="1379.9" x2="1252" y2="1379.9" stroke="#1a1a1a" stroke-width="1.6"/>
<line x1="1247.6" y1="1392.3" x2="1252" y2="1392.3" stroke="#1a1a1a" stroke-width="1.6"/>
<path d="M1306.2,1352 L1309.4,1355.2 L1306.2,1358.4 L1303,1355.2 Z M1309,1352.6 L1312.2,1355.8 L1309,1359 L1305.8,1355.8 Z M1311.2,1354.8 L1314.4,1358 L1311.2,1361.2 L1308,1358 Z M1306.8,1361.5 L1310,1364.7 L1306.8,1367.9 L1303.6,1364.7 Z M1305.1,1363.7 L1308.3,1366.9 L1305.1,1370.1 L1301.9,1366.9 Z" fill="none" stroke="#1a1a1a" stroke-width="1.15"/>
<line x1="1312.9" y1="1354.9" x2="1321.8" y2="1354.9" stroke="#1a1a1a" stroke-width="3"/>
<line x1="1312.9" y1="1364.7" x2="1321.8" y2="1364.7" stroke="#1a1a1a" stroke-width="3"/>
<line x1="1317.3" y1="1357" x2="1317.3" y2="1362.5" stroke="#1a1a1a" stroke-width="2.4"/>
<line x1="1315.1" y1="1357" x2="1319.5" y2="1357" stroke="#1a1a1a" stroke-width="1.6"/>
<line x1="1315.1" y1="1362.5" x2="1319.5" y2="1362.5" stroke="#1a1a1a" stroke-width="1.6"/>
<path d="M1345.5,1334.7 L1348.7,1337.9 L1345.5,1341.1 L1342.3,1337.9 Z M1341.5,1345.6 L1344.7,1348.8 L1341.5,1352 L1338.3,1348.8 Z M1338.8,1353.4 L1342,1356.6 L1338.8,1359.8 L1335.6,1356.6 Z M1340.2,1360.1 L1343.4,1363.3 L1340.2,1366.5 L1337,1363.3 Z M1344.1,1363.1 L1347.3,1366.3 L1344.1,1369.5 L1340.9,1366.3 Z" fill="none" stroke="#1a1a1a" stroke-width="1.15"/>
<line x1="1346.3" y1="1345.2" x2="1355.8" y2="1345.2" stroke="#1a1a1a" stroke-width="3"/>
<line x1="1346.3" y1="1367.4" x2="1355.8" y2="1367.4" stroke="#1a1a1a" stroke-width="3"/>
<line x1="1350.8" y1="1351.3" x2="1350.8" y2="1361.3" stroke="#1a1a1a" stroke-width="2.4"/>
<line x1="1348.6" y1="1351.3" x2="1353" y2="1351.3" stroke="#1a1a1a" stroke-width="1.6"/>
<line x1="1348.6" y1="1361.3" x2="1353" y2="1361.3" stroke="#1a1a1a" stroke-width="1.6"/>
<path d="M1372.5,1322.5 L1375.7,1325.7 L1372.5,1328.9 L1369.3,1325.7 Z M1376.9,1323 L1380.1,1326.2 L1376.9,1329.4 L1373.7,1326.2 Z M1373.6,1338.6 L1376.8,1341.8 L1373.6,1345 L1370.4,1341.8 Z M1378.1,1339.7 L1381.3,1342.9 L1378.1,1346.1 L1374.9,1342.9 Z" fill="none" stroke="#1a1a1a" stroke-width="1.15"/>
<line x1="1380.3" y1="1325.1" x2="1388.1" y2="1325.1" stroke="#1a1a1a" stroke-width="3"/>
<line x1="1380.3" y1="1342.4" x2="1388.1" y2="1342.4" stroke="#1a1a1a" stroke-width="3"/>
<line x1="1384.7" y1="1330.7" x2="1384.7" y2="1340.7" stroke="#1a1a1a" stroke-width="2.4"/>
<line x1="1382.5" y1="1330.7" x2="1386.9" y2="1330.7" stroke="#1a1a1a" stroke-width="1.6"/>
<line x1="1382.5" y1="1340.7" x2="1386.9" y2="1340.7" stroke="#1a1a1a" stroke-width="1.6"/>
<defs>
<linearGradient id="wg" x1="254" x2="480" y1="0" y2="0" gradientUnits="userSpaceOnUse">
<stop offset="0" stop-color="#97acc5"/>
<stop offset="0.3" stop-color="#a1b6cf"/>
<stop offset="1" stop-color="#a9bed8"/>
</linearGradient>
<linearGradient id="ovg" x1="254" x2="335" y1="0" y2="0" gradientUnits="userSpaceOnUse">
<stop offset="0" stop-color="#738db2"/>
<stop offset="1" stop-color="#7c97bd"/>
</linearGradient>
<linearGradient id="ptg" x1="0" x2="1" y1="0" y2="0">
<stop offset="0" stop-color="#a8946a"/><stop offset="0.25" stop-color="#bcac8c"/><stop offset="0.75" stop-color="#b8a886"/><stop offset="1" stop-color="#a8946a"/>
</linearGradient>
<linearGradient id="t6" x1="0" x2="0" y1="0" y2="1"><stop offset="0" stop-color="#e08a10"/><stop offset="1" stop-color="#fbc27a"/></linearGradient>
<linearGradient id="t5" x1="0" x2="0" y1="0" y2="1"><stop offset="0" stop-color="#d04a10"/><stop offset="1" stop-color="#f3a07a"/></linearGradient>
<linearGradient id="t4" x1="0" x2="0" y1="0" y2="1"><stop offset="0" stop-color="#2a62a8"/><stop offset="1" stop-color="#9ab6e0"/></linearGradient>
<linearGradient id="t3" x1="0" x2="0" y1="0" y2="1"><stop offset="0" stop-color="#2f94d0"/><stop offset="1" stop-color="#9fd0f0"/></linearGradient>
<linearGradient id="t2" x1="0" x2="0" y1="0" y2="1"><stop offset="0" stop-color="#d0d0d0"/><stop offset="1" stop-color="#f4f4f4"/></linearGradient>
<linearGradient id="t1" x1="0" x2="0" y1="0" y2="1"><stop offset="0" stop-color="#b8b8b8"/><stop offset="1" stop-color="#dadada"/></linearGradient>
</defs>
<text x="21.96" y="46.9" font-size="40.89" fill="#1a1a1a" font-weight="bold" textLength="19.82" lengthAdjust="spacingAndGlyphs">a</text>
<line x1="252.2" y1="223.8" x2="252.2" y2="430" stroke="#1a1a1a" stroke-width="4.4"/>
<path d="M107,334.5 C108.83,332.67 113.83,327 118,323.5 C122.17,320 125.93,317.15 132,313.5 C138.07,309.85 145.57,305.6 154.4,301.6 C163.23,297.6 174.5,293.17 185,289.5 C195.5,285.83 206.57,282.43 217.4,279.6 C228.23,276.77 239.52,274.6 250,272.5 C260.48,270.4 268.68,269.22 280.3,267 C291.92,264.78 313.13,260.5 319.7,259.2 L320,276 L333,276 L333,351.6  C325.83,352.88 304.03,356.82 290,359.3 C275.97,361.78 260.9,364.55 248.8,366.5 C236.7,368.45 228.03,369.82 217.4,371 C206.77,372.18 195.5,373.05 185,373.6 C174.5,374.15 163.57,374.48 154.4,374.3 C145.23,374.12 137.07,373.38 130,372.5 C122.93,371.62 115,369.58 112,369 Z" fill="#a39bcb"/>
<path d="M107,334.5 C108.83,332.67 113.83,327 118,323.5 C122.17,320 125.93,317.15 132,313.5 C138.07,309.85 145.57,305.6 154.4,301.6 C163.23,297.6 174.5,293.17 185,289.5 C195.5,285.83 206.57,282.43 217.4,279.6 C228.23,276.77 239.52,274.6 250,272.5 C260.48,270.4 268.68,269.22 280.3,267 C291.92,264.78 313.13,260.5 319.7,259.2 L320,276 L333,276 L333,351.6  C325.83,352.88 304.03,356.82 290,359.3 C275.97,361.78 260.9,364.55 248.8,366.5 C236.7,368.45 228.03,369.82 217.4,371 C206.77,372.18 195.5,373.05 185,373.6 C174.5,374.15 163.57,374.48 154.4,374.3 C145.23,374.12 137.07,373.38 130,372.5 C122.93,371.62 115,369.58 112,369 Z" fill="none" stroke="#8f86bb" stroke-width="0.8"/>
<clipPath id="bclip"><path d="M107,334.5 C108.83,332.67 113.83,327 118,323.5 C122.17,320 125.93,317.15 132,313.5 C138.07,309.85 145.57,305.6 154.4,301.6 C163.23,297.6 174.5,293.17 185,289.5 C195.5,285.83 206.57,282.43 217.4,279.6 C228.23,276.77 239.52,274.6 250,272.5 C260.48,270.4 268.68,269.22 280.3,267 C291.92,264.78 313.13,260.5 319.7,259.2 L320,276 L333,276 L333,351.6  C325.83,352.88 304.03,356.82 290,359.3 C275.97,361.78 260.9,364.55 248.8,366.5 C236.7,368.45 228.03,369.82 217.4,371 C206.77,372.18 195.5,373.05 185,373.6 C174.5,374.15 163.57,374.48 154.4,374.3 C145.23,374.12 137.07,373.38 130,372.5 C122.93,371.62 115,369.58 112,369 Z"/></clipPath>
<line x1="252.20000000000002" y1="250" x2="252.20000000000002" y2="380" stroke="#5b5570" stroke-width="4.4" clip-path="url(#bclip)"/>
<clipPath id="wclip"><path d="M254.5,430 L254.5,308 C254.5,290 300,276 366.8,276 C432.8,276 479.2,290 479.2,306 L479.2,430 A112.39999999999998,48.5 0 0 1 254.5,430 Z"/></clipPath>
<path d="M254.5,430 L254.5,308 C254.5,290 300,276 366.8,276 C432.8,276 479.2,290 479.2,306 L479.2,430 A112.39999999999998,48.5 0 0 1 254.5,430 Z" fill="url(#wg)"/>
<path d="M107,334.5 C108.83,332.67 113.83,327 118,323.5 C122.17,320 125.93,317.15 132,313.5 C138.07,309.85 145.57,305.6 154.4,301.6 C163.23,297.6 174.5,293.17 185,289.5 C195.5,285.83 206.57,282.43 217.4,279.6 C228.23,276.77 239.52,274.6 250,272.5 C260.48,270.4 268.68,269.22 280.3,267 C291.92,264.78 313.13,260.5 319.7,259.2 L320,276 L333,276 L333,351.6  C325.83,352.88 304.03,356.82 290,359.3 C275.97,361.78 260.9,364.55 248.8,366.5 C236.7,368.45 228.03,369.82 217.4,371 C206.77,372.18 195.5,373.05 185,373.6 C174.5,374.15 163.57,374.48 154.4,374.3 C145.23,374.12 137.07,373.38 130,372.5 C122.93,371.62 115,369.58 112,369 Z" fill="url(#ovg)" clip-path="url(#wclip)"/>
<ellipse cx="366.8" cy="433" rx="108.6" ry="44" fill="#b3c7de" fill-opacity="0.55"/>
<path d="M253.20000000000002,430 A113.6,50 0 0 1 480.4,430" fill="none" stroke="#6c7c8c" stroke-width="3"/>
<rect x="362.1" y="251.6" width="16.6" height="83.1" rx="6" ry="7" fill="#a89a86"/>
<path d="M362.1,273 L362.1,257.6 Q362.1,251.6 368.1,251.6 L372.7,251.6 Q378.7,251.6 378.7,257.6 L378.7,272.06 Z" fill="url(#t6)"/>
<rect x="357.8" y="252.9" width="13.2" height="83.7" rx="6" ry="7" fill="#a68a84"/>
<path d="M357.8,273 L357.8,258.9 Q357.8,252.9 363.8,252.9 L365,252.9 Q371,252.9 371,258.9 L371,272.45 Z" fill="url(#t5)"/>
<rect x="348" y="254.7" width="14.4" height="83.4" rx="6" ry="7" fill="#4f82b8"/>
<path d="M348,273 L348,260.7 Q348,254.7 354,254.7 L356.4,254.7 Q362.4,254.7 362.4,260.7 L362.4,272.88 Z" fill="url(#t4)"/>
<rect x="339.4" y="256.2" width="13.5" height="83.8" rx="6" ry="7" fill="#5f9cc6"/>
<path d="M339.4,273 L339.4,262.2 Q339.4,256.2 345.4,256.2 L346.9,256.2 Q352.9,256.2 352.9,262.2 L352.9,273.36 Z" fill="url(#t3)"/>
<rect x="330.2" y="258.4" width="14.1" height="83.4" rx="6" ry="7" fill="#9cb0c6"/>
<path d="M330.2,273 L330.2,264.4 Q330.2,258.4 336.2,258.4 L338.3,258.4 Q344.3,258.4 344.3,264.4 L344.3,273.79 Z" fill="url(#t2)"/>
<rect x="320.1" y="260.2" width="12.9" height="83.4" rx="6" ry="7" fill="#8ea2b6"/>
<path d="M320.1,273 L320.1,266.2 Q320.1,260.2 326.1,260.2 L327,260.2 Q333,260.2 333,266.2 L333,274.35 Z" fill="url(#t1)"/>
<rect x="404.1" y="233.3" width="19.7" height="103.2" fill="url(#ptg)"/>
<rect x="404.1" y="276" width="19.7" height="60.5" fill="#8c8a86" fill-opacity="0.35"/>
<ellipse cx="413.95" cy="336.5" rx="9.85" ry="4.6" fill="#a18b5f"/>
<ellipse cx="413.95" cy="233.3" rx="9.85" ry="4.3" fill="#9f895d"/>
<rect x="430.2" y="276.8" width="17.3" height="103.2" fill="#b9cadc" fill-opacity="0.35" stroke="#6d7d8c" stroke-width="1.5"/>
<ellipse cx="438.85" cy="380" rx="8.65" ry="3.9" fill="none" stroke="#6d7d8c" stroke-width="1.5"/>
<line x1="438.9" y1="280" x2="438.9" y2="322" stroke="#7a8ea4" stroke-width="3.2"/>
<ellipse cx="438.7" cy="337.4" rx="4.7" ry="19" fill="#7d90a6"/>
<ellipse cx="438.85" cy="276.8" rx="8.65" ry="3.9" fill="#fff" fill-opacity="0.2" stroke="#1a1a1a" stroke-width="1.6"/>
<path d="M327.3,262 L326.4,126.7 L515.3,126.7" fill="none" stroke="#333333" stroke-width="2.6" stroke-linejoin="round"/>
<path d="M413.8,229 L413.1,138.1 L515.3,138.1" fill="none" stroke="#333333" stroke-width="2.6" stroke-linejoin="round"/>
<path d="M438.8,273 L438.2,152.5 L515.3,152.5" fill="none" stroke="#333333" stroke-width="2.6" stroke-linejoin="round"/>
<ellipse cx="366.8" cy="223.8" rx="113.6" ry="48.5" fill="none" stroke="#1a1a1a" stroke-width="4.2"/>
<line x1="481.4" y1="223.8" x2="481.4" y2="430" stroke="#1a1a1a" stroke-width="4.2"/>
<path d="M252.20000000000002,430 A114.6,50 0 0 0 481.4,430" fill="none" stroke="#1a1a1a" stroke-width="4.2"/>
<ellipse cx="105.5" cy="350.5" rx="7.7" ry="18.9" fill="#3a2f95"/>
<text transform="translate(93.3,375.2) rotate(-90)" x="-2.25" y="0" font-size="29.65" fill="#1a1a1a" textLength="53.36" lengthAdjust="spacingAndGlyphs">LED</text>
<text transform="translate(399.9,337.4) rotate(-90)" x="-1.91" y="0" font-size="22.97" fill="#1a1a1a" textLength="90.54" lengthAdjust="spacingAndGlyphs">Platinum</text>
<text transform="translate(471.4,381) rotate(-90)" x="-0.04" y="0" font-size="23.84" fill="#1a1a1a" textLength="80.1" lengthAdjust="spacingAndGlyphs">Ag/AgCl</text>
<rect x="516.8" y="90.9" width="55.1" height="171.9" fill="none" stroke="#2e2a6e" stroke-width="3"/>
<text transform="translate(551.3,257.3) rotate(-90)" x="-2.47" y="0" font-size="30.52" fill="#2e2a72" textLength="158.99" lengthAdjust="spacingAndGlyphs">Potentiostat</text>
</svg>
</body></html>
